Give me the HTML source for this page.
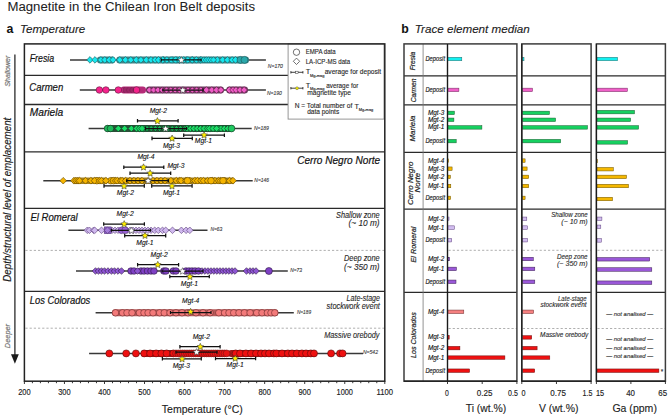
<!DOCTYPE html>
<html><head><meta charset="utf-8"><style>
html,body{margin:0;padding:0;background:#fff;}
svg{display:block;font-family:"Liberation Sans", sans-serif;}
</style></head><body>
<svg width="668" height="418" viewBox="0 0 668 418">
<rect width="668" height="418" fill="#fff"/>
<text x="7.5" y="10.7" font-size="12.5" text-anchor="start" stroke="#222" stroke-width="0.05" fill="#222" textLength="247.5" lengthAdjust="spacingAndGlyphs">Magnetite in the Chilean Iron Belt deposits</text>
<text x="6.5" y="33" font-size="12.3" text-anchor="start" font-weight="bold" fill="#111">a</text>
<text x="20" y="33" font-size="11.4" text-anchor="start" stroke="#222" stroke-width="0.12" font-style="italic" fill="#222" textLength="65.3" lengthAdjust="spacingAndGlyphs">Temperature</text>
<text x="401.2" y="33" font-size="12.3" text-anchor="start" font-weight="bold" fill="#111">b</text>
<text x="414.8" y="33" font-size="11.4" text-anchor="start" stroke="#222" stroke-width="0.12" font-style="italic" fill="#222" textLength="114.9" lengthAdjust="spacingAndGlyphs">Trace element median</text>
<path d="M14.9,54.4V356" stroke="#2a2a2a" stroke-width="1.3"/>
<path d="M11.0,354.3L18.8,354.3L14.9,363.8Z" fill="#1a1a1a"/>
<text transform="translate(11.4,281.7) rotate(-90)" font-size="10.4" font-style="italic" fill="#1a1a1a" stroke="#1a1a1a" stroke-width="0.15" textLength="164" lengthAdjust="spacingAndGlyphs">Depth/structural level of emplacement</text>
<text transform="translate(9.8,86.6) rotate(-90)" font-size="8" font-style="italic" fill="#777" stroke="#777" stroke-width="0.2" textLength="31" lengthAdjust="spacingAndGlyphs">Shallower</text>
<text transform="translate(9.8,348.2) rotate(-90)" font-size="8" font-style="italic" fill="#777" stroke="#777" stroke-width="0.2" textLength="24.3" lengthAdjust="spacingAndGlyphs">Deeper</text>
<path d="M24.4,75.4H288.1" stroke="#2a2a2a" stroke-width="1.3"/>
<path d="M24.4,104.5H288.1" stroke="#2a2a2a" stroke-width="1.3"/>
<path d="M24.4,151.9H384.8" stroke="#2a2a2a" stroke-width="1.3"/>
<path d="M24.4,208.4H384.8" stroke="#2a2a2a" stroke-width="1.3"/>
<path d="M24.4,291.4H384.8" stroke="#2a2a2a" stroke-width="1.3"/>
<path d="M25.4,250.4H384.8" stroke="#9a9a9a" stroke-width="0.8" stroke-dasharray="2.2,2.0"/>
<path d="M25.4,328.2H384.8" stroke="#9a9a9a" stroke-width="0.8" stroke-dasharray="2.2,2.0"/>
<path d="M24.40,381.2V384.0" stroke="#222" stroke-width="0.9"/>
<path d="M32.41,381.2V383.2" stroke="#222" stroke-width="0.9"/>
<path d="M40.42,381.2V383.2" stroke="#222" stroke-width="0.9"/>
<path d="M48.43,381.2V383.2" stroke="#222" stroke-width="0.9"/>
<path d="M56.44,381.2V383.2" stroke="#222" stroke-width="0.9"/>
<path d="M64.44,381.2V384.0" stroke="#222" stroke-width="0.9"/>
<path d="M72.45,381.2V383.2" stroke="#222" stroke-width="0.9"/>
<path d="M80.46,381.2V383.2" stroke="#222" stroke-width="0.9"/>
<path d="M88.47,381.2V383.2" stroke="#222" stroke-width="0.9"/>
<path d="M96.48,381.2V383.2" stroke="#222" stroke-width="0.9"/>
<path d="M104.49,381.2V384.0" stroke="#222" stroke-width="0.9"/>
<path d="M112.50,381.2V383.2" stroke="#222" stroke-width="0.9"/>
<path d="M120.51,381.2V383.2" stroke="#222" stroke-width="0.9"/>
<path d="M128.52,381.2V383.2" stroke="#222" stroke-width="0.9"/>
<path d="M136.52,381.2V383.2" stroke="#222" stroke-width="0.9"/>
<path d="M144.53,381.2V384.0" stroke="#222" stroke-width="0.9"/>
<path d="M152.54,381.2V383.2" stroke="#222" stroke-width="0.9"/>
<path d="M160.55,381.2V383.2" stroke="#222" stroke-width="0.9"/>
<path d="M168.56,381.2V383.2" stroke="#222" stroke-width="0.9"/>
<path d="M176.57,381.2V383.2" stroke="#222" stroke-width="0.9"/>
<path d="M184.58,381.2V384.0" stroke="#222" stroke-width="0.9"/>
<path d="M192.59,381.2V383.2" stroke="#222" stroke-width="0.9"/>
<path d="M200.60,381.2V383.2" stroke="#222" stroke-width="0.9"/>
<path d="M208.60,381.2V383.2" stroke="#222" stroke-width="0.9"/>
<path d="M216.61,381.2V383.2" stroke="#222" stroke-width="0.9"/>
<path d="M224.62,381.2V384.0" stroke="#222" stroke-width="0.9"/>
<path d="M232.63,381.2V383.2" stroke="#222" stroke-width="0.9"/>
<path d="M240.64,381.2V383.2" stroke="#222" stroke-width="0.9"/>
<path d="M248.65,381.2V383.2" stroke="#222" stroke-width="0.9"/>
<path d="M256.66,381.2V383.2" stroke="#222" stroke-width="0.9"/>
<path d="M264.67,381.2V384.0" stroke="#222" stroke-width="0.9"/>
<path d="M272.68,381.2V383.2" stroke="#222" stroke-width="0.9"/>
<path d="M280.68,381.2V383.2" stroke="#222" stroke-width="0.9"/>
<path d="M288.69,381.2V383.2" stroke="#222" stroke-width="0.9"/>
<path d="M296.70,381.2V383.2" stroke="#222" stroke-width="0.9"/>
<path d="M304.71,381.2V384.0" stroke="#222" stroke-width="0.9"/>
<path d="M312.72,381.2V383.2" stroke="#222" stroke-width="0.9"/>
<path d="M320.73,381.2V383.2" stroke="#222" stroke-width="0.9"/>
<path d="M328.74,381.2V383.2" stroke="#222" stroke-width="0.9"/>
<path d="M336.75,381.2V383.2" stroke="#222" stroke-width="0.9"/>
<path d="M344.76,381.2V384.0" stroke="#222" stroke-width="0.9"/>
<path d="M352.76,381.2V383.2" stroke="#222" stroke-width="0.9"/>
<path d="M360.77,381.2V383.2" stroke="#222" stroke-width="0.9"/>
<path d="M368.78,381.2V383.2" stroke="#222" stroke-width="0.9"/>
<path d="M376.79,381.2V383.2" stroke="#222" stroke-width="0.9"/>
<path d="M384.80,381.2V384.0" stroke="#222" stroke-width="0.9"/>
<text x="24.4" y="395.1" font-size="9.1" text-anchor="middle" stroke="#222" stroke-width="0.15" fill="#222" textLength="12.5" lengthAdjust="spacingAndGlyphs">200</text>
<text x="64.44" y="395.1" font-size="9.1" text-anchor="middle" stroke="#222" stroke-width="0.15" fill="#222" textLength="12.5" lengthAdjust="spacingAndGlyphs">300</text>
<text x="104.49" y="395.1" font-size="9.1" text-anchor="middle" stroke="#222" stroke-width="0.15" fill="#222" textLength="12.5" lengthAdjust="spacingAndGlyphs">400</text>
<text x="144.53" y="395.1" font-size="9.1" text-anchor="middle" stroke="#222" stroke-width="0.15" fill="#222" textLength="12.5" lengthAdjust="spacingAndGlyphs">500</text>
<text x="184.58" y="395.1" font-size="9.1" text-anchor="middle" stroke="#222" stroke-width="0.15" fill="#222" textLength="12.5" lengthAdjust="spacingAndGlyphs">600</text>
<text x="224.62" y="395.1" font-size="9.1" text-anchor="middle" stroke="#222" stroke-width="0.15" fill="#222" textLength="12.5" lengthAdjust="spacingAndGlyphs">700</text>
<text x="264.67" y="395.1" font-size="9.1" text-anchor="middle" stroke="#222" stroke-width="0.15" fill="#222" textLength="12.5" lengthAdjust="spacingAndGlyphs">800</text>
<text x="304.71" y="395.1" font-size="9.1" text-anchor="middle" stroke="#222" stroke-width="0.15" fill="#222" textLength="12.5" lengthAdjust="spacingAndGlyphs">900</text>
<text x="344.76" y="395.1" font-size="9.1" text-anchor="middle" stroke="#222" stroke-width="0.15" fill="#222" textLength="16.5" lengthAdjust="spacingAndGlyphs">1000</text>
<text x="384.8" y="395.1" font-size="9.1" text-anchor="middle" stroke="#222" stroke-width="0.15" fill="#222" textLength="16.5" lengthAdjust="spacingAndGlyphs">1100</text>
<text x="161.8" y="413.1" font-size="11.2" text-anchor="start" stroke="#222" stroke-width="0.12" fill="#222" textLength="81" lengthAdjust="spacingAndGlyphs">Temperature (°C)</text>
<text x="29.7" y="62.4" font-size="10.5" text-anchor="start" stroke="#141414" stroke-width="0.2" font-style="italic" fill="#141414" textLength="24.5" lengthAdjust="spacingAndGlyphs">Fresia</text>
<text x="29.3" y="90.8" font-size="10.5" text-anchor="start" stroke="#141414" stroke-width="0.2" font-style="italic" fill="#141414" textLength="33.9" lengthAdjust="spacingAndGlyphs">Carmen</text>
<text x="29.8" y="116.4" font-size="10.5" text-anchor="start" stroke="#141414" stroke-width="0.2" font-style="italic" fill="#141414" textLength="33.4" lengthAdjust="spacingAndGlyphs">Mariela</text>
<text x="297.2" y="163.5" font-size="10.5" text-anchor="start" stroke="#141414" stroke-width="0.2" font-style="italic" fill="#141414" textLength="83" lengthAdjust="spacingAndGlyphs">Cerro Negro Norte</text>
<text x="30.4" y="220.6" font-size="10.5" text-anchor="start" stroke="#141414" stroke-width="0.2" font-style="italic" fill="#141414" textLength="47.3" lengthAdjust="spacingAndGlyphs">El Romeral</text>
<text x="29.8" y="304.0" font-size="10.5" text-anchor="start" stroke="#141414" stroke-width="0.2" font-style="italic" fill="#141414" textLength="60.5" lengthAdjust="spacingAndGlyphs">Los Colorados</text>
<text x="336.0" y="217.9" font-size="8.2" text-anchor="start" stroke="#2a2a2a" stroke-width="0.12" font-style="italic" fill="#2a2a2a" textLength="43.6" lengthAdjust="spacingAndGlyphs">Shallow zone</text>
<text x="348.5" y="226.4" font-size="8.2" text-anchor="start" stroke="#2a2a2a" stroke-width="0.12" font-style="italic" fill="#2a2a2a" textLength="31.1" lengthAdjust="spacingAndGlyphs">(~ 10 m)</text>
<text x="344.0" y="260.8" font-size="8.2" text-anchor="start" stroke="#2a2a2a" stroke-width="0.12" font-style="italic" fill="#2a2a2a" textLength="35.6" lengthAdjust="spacingAndGlyphs">Deep zone</text>
<text x="344.0" y="269.6" font-size="8.2" text-anchor="start" stroke="#2a2a2a" stroke-width="0.12" font-style="italic" fill="#2a2a2a" textLength="35.6" lengthAdjust="spacingAndGlyphs">(~ 350 m)</text>
<text x="346.6" y="301.3" font-size="8.2" text-anchor="start" stroke="#2a2a2a" stroke-width="0.12" font-style="italic" fill="#2a2a2a" textLength="33.3" lengthAdjust="spacingAndGlyphs">Late-stage</text>
<text x="326.6" y="308.8" font-size="8.2" text-anchor="start" stroke="#2a2a2a" stroke-width="0.12" font-style="italic" fill="#2a2a2a" textLength="53.3" lengthAdjust="spacingAndGlyphs">stockwork event</text>
<text x="324.2" y="338.4" font-size="8.2" text-anchor="start" stroke="#2a2a2a" stroke-width="0.12" font-style="italic" fill="#2a2a2a" textLength="55.3" lengthAdjust="spacingAndGlyphs">Massive orebody</text>
<path d="M70.0,59.9H265.9" stroke="#383838" stroke-width="1.5"/>
<rect x="97.0" y="56.40" width="18.30" height="7.0" rx="3.2" fill="#3d8488"/>
<rect x="116.3" y="56.40" width="132.70" height="7.0" rx="3.2" fill="#3d8488"/>
<path d="M86.70,59.9L90.0,56.60L93.30,59.9L90.0,63.20Z" fill="#17e6ee" stroke="#1d5558" stroke-width="0.6"/>
<path d="M91.70,59.9L95.0,56.60L98.30,59.9L95.0,63.20Z" fill="#17e6ee" stroke="#1d5558" stroke-width="0.6"/>
<path d="M97.60,59.9L100.9,56.60L104.20,59.9L100.9,63.20Z" fill="#17e6ee" stroke="#1d5558" stroke-width="0.6"/>
<path d="M101.50,59.9L104.8,56.60L108.10,59.9L104.8,63.20Z" fill="#17e6ee" stroke="#1d5558" stroke-width="0.6"/>
<path d="M106.00,59.9L109.3,56.60L112.60,59.9L109.3,63.20Z" fill="#17e6ee" stroke="#1d5558" stroke-width="0.6"/>
<path d="M109.70,59.9L113,56.60L116.30,59.9L113,63.20Z" fill="#17e6ee" stroke="#1d5558" stroke-width="0.6"/>
<path d="M116.50,59.9L119.8,56.60L123.10,59.9L119.8,63.20Z" fill="#17e6ee" stroke="#1d5558" stroke-width="0.6"/>
<path d="M122.10,59.9L125.4,56.60L128.70,59.9L125.4,63.20Z" fill="#17e6ee" stroke="#1d5558" stroke-width="0.6"/>
<path d="M127.50,59.9L130.8,56.60L134.10,59.9L130.8,63.20Z" fill="#17e6ee" stroke="#1d5558" stroke-width="0.6"/>
<path d="M132.90,59.9L136.2,56.60L139.50,59.9L136.2,63.20Z" fill="#17e6ee" stroke="#1d5558" stroke-width="0.6"/>
<path d="M137.60,59.9L140.9,56.60L144.20,59.9L140.9,63.20Z" fill="#17e6ee" stroke="#1d5558" stroke-width="0.6"/>
<path d="M143.00,59.9L146.3,56.60L149.60,59.9L146.3,63.20Z" fill="#17e6ee" stroke="#1d5558" stroke-width="0.6"/>
<path d="M147.70,59.9L151.0,56.60L154.30,59.9L151.0,63.20Z" fill="#17e6ee" stroke="#1d5558" stroke-width="0.6"/>
<path d="M151.80,59.9L155.1,56.60L158.40,59.9L155.1,63.20Z" fill="#17e6ee" stroke="#1d5558" stroke-width="0.6"/>
<path d="M160.10,59.9L163.4,56.60L166.70,59.9L163.4,63.20Z" fill="#17e6ee" stroke="#1d5558" stroke-width="0.6"/>
<path d="M169.50,59.9L172.8,56.60L176.10,59.9L172.8,63.20Z" fill="#17e6ee" stroke="#1d5558" stroke-width="0.6"/>
<path d="M173.50,59.9L176.8,56.60L180.10,59.9L176.8,63.20Z" fill="#17e6ee" stroke="#1d5558" stroke-width="0.6"/>
<path d="M183.70,59.9L187.0,56.60L190.30,59.9L187.0,63.20Z" fill="#17e6ee" stroke="#1d5558" stroke-width="0.6"/>
<path d="M189.00,59.9L192.3,56.60L195.60,59.9L192.3,63.20Z" fill="#17e6ee" stroke="#1d5558" stroke-width="0.6"/>
<path d="M214.00,59.9L217.3,56.60L220.60,59.9L217.3,63.20Z" fill="#17e6ee" stroke="#1d5558" stroke-width="0.6"/>
<path d="M219.40,59.9L222.7,56.60L226.00,59.9L222.7,63.20Z" fill="#17e6ee" stroke="#1d5558" stroke-width="0.6"/>
<path d="M224.10,59.9L227.4,56.60L230.70,59.9L227.4,63.20Z" fill="#17e6ee" stroke="#1d5558" stroke-width="0.6"/>
<path d="M228.80,59.9L232.1,56.60L235.40,59.9L232.1,63.20Z" fill="#17e6ee" stroke="#1d5558" stroke-width="0.6"/>
<path d="M232.20,59.9L235.5,56.60L238.80,59.9L235.5,63.20Z" fill="#17e6ee" stroke="#1d5558" stroke-width="0.6"/>
<path d="M155.20,59.9L158.5,56.60L161.80,59.9L158.5,63.20Z" fill="#17e6ee" stroke="#1d5558" stroke-width="0.6"/>
<path d="M159.40,59.9L162.7,56.60L166.00,59.9L162.7,63.20Z" fill="#17e6ee" stroke="#1d5558" stroke-width="0.6"/>
<path d="M163.60,59.9L166.89999999999998,56.60L170.20,59.9L166.89999999999998,63.20Z" fill="#17e6ee" stroke="#1d5558" stroke-width="0.6"/>
<path d="M167.80,59.9L171.09999999999997,56.60L174.40,59.9L171.09999999999997,63.20Z" fill="#17e6ee" stroke="#1d5558" stroke-width="0.6"/>
<path d="M172.00,59.9L175.29999999999995,56.60L178.60,59.9L175.29999999999995,63.20Z" fill="#17e6ee" stroke="#1d5558" stroke-width="0.6"/>
<path d="M176.20,59.9L179.49999999999994,56.60L182.80,59.9L179.49999999999994,63.20Z" fill="#17e6ee" stroke="#1d5558" stroke-width="0.6"/>
<path d="M180.40,59.9L183.69999999999993,56.60L187.00,59.9L183.69999999999993,63.20Z" fill="#17e6ee" stroke="#1d5558" stroke-width="0.6"/>
<path d="M184.60,59.9L187.89999999999992,56.60L191.20,59.9L187.89999999999992,63.20Z" fill="#17e6ee" stroke="#1d5558" stroke-width="0.6"/>
<path d="M188.80,59.9L192.0999999999999,56.60L195.40,59.9L192.0999999999999,63.20Z" fill="#17e6ee" stroke="#1d5558" stroke-width="0.6"/>
<path d="M193.00,59.9L196.2999999999999,56.60L199.60,59.9L196.2999999999999,63.20Z" fill="#17e6ee" stroke="#1d5558" stroke-width="0.6"/>
<path d="M197.20,59.9L200.4999999999999,56.60L203.80,59.9L200.4999999999999,63.20Z" fill="#17e6ee" stroke="#1d5558" stroke-width="0.6"/>
<path d="M198.40,59.9L201.5,56.80L204.60,59.9L201.5,63.00Z" fill="#17e6ee" stroke="#1d5558" stroke-width="0.6"/>
<path d="M200.80,59.9L203.9,56.80L207.00,59.9L203.9,63.00Z" fill="#17e6ee" stroke="#1d5558" stroke-width="0.6"/>
<path d="M203.20,59.9L206.3,56.80L209.40,59.9L206.3,63.00Z" fill="#17e6ee" stroke="#1d5558" stroke-width="0.6"/>
<path d="M205.60,59.9L208.70000000000002,56.80L211.80,59.9L208.70000000000002,63.00Z" fill="#17e6ee" stroke="#1d5558" stroke-width="0.6"/>
<path d="M208.00,59.9L211.10000000000002,56.80L214.20,59.9L211.10000000000002,63.00Z" fill="#17e6ee" stroke="#1d5558" stroke-width="0.6"/>
<path d="M210.40,59.9L213.50000000000003,56.80L216.60,59.9L213.50000000000003,63.00Z" fill="#17e6ee" stroke="#1d5558" stroke-width="0.6"/>
<circle cx="240.50" cy="59.9" r="3.5" fill="#2aa7aa" stroke="#1d5558" stroke-width="0.6"/>
<circle cx="244.50" cy="59.9" r="3.5" fill="#2aa7aa" stroke="#1d5558" stroke-width="0.6"/>
<path d="M161.3,59.9H201.1M161.3,58.4V61.4M201.1,58.4V61.4" stroke="#111" stroke-width="1.25" fill="none"/>
<path d="M181.30,56.60 L182.32,58.80 L184.72,59.09 L182.94,60.73 L183.42,63.11 L181.30,61.93 L179.18,63.11 L179.66,60.73 L177.88,59.09 L180.28,58.80 Z" fill="#ffffff" stroke="#333" stroke-width="0.55"/>
<text x="267.8" y="68.0" font-size="5.9" text-anchor="start" stroke="#3a3a3a" stroke-width="0.12" font-style="italic" fill="#3a3a3a" textLength="15.1" lengthAdjust="spacingAndGlyphs">N=170</text>
<path d="M79.8,90.0H265.9" stroke="#383838" stroke-width="1.5"/>
<rect x="120.5" y="86.50" width="25.50" height="7.0" rx="3.2" fill="#b52a78"/>
<rect x="146" y="86.50" width="78.00" height="7.0" rx="3.2" fill="#6e3a62"/>
<rect x="226.3" y="86.50" width="21.70" height="7.0" rx="3.2" fill="#6e3a62"/>
<circle cx="99.40" cy="90.0" r="3.3" fill="#f5228c" stroke="#5a1c3c" stroke-width="0.6"/>
<circle cx="105.90" cy="90.0" r="3.3" fill="#f5228c" stroke="#5a1c3c" stroke-width="0.6"/>
<circle cx="118.30" cy="90.0" r="3.3" fill="#f5228c" stroke="#5a1c3c" stroke-width="0.6"/>
<circle cx="136.50" cy="90.0" r="3.3" fill="#f5228c" stroke="#5a1c3c" stroke-width="0.6"/>
<path d="M146.20,90.0L149.3,86.90L152.40,90.0L149.3,93.10Z" fill="#ee5cc6" stroke="#5a1c3c" stroke-width="0.6"/>
<path d="M150.50,90.0L153.60000000000002,86.90L156.70,90.0L153.60000000000002,93.10Z" fill="#ee5cc6" stroke="#5a1c3c" stroke-width="0.6"/>
<path d="M154.80,90.0L157.90000000000003,86.90L161.00,90.0L157.90000000000003,93.10Z" fill="#ee5cc6" stroke="#5a1c3c" stroke-width="0.6"/>
<path d="M159.10,90.0L162.20000000000005,86.90L165.30,90.0L162.20000000000005,93.10Z" fill="#ee5cc6" stroke="#5a1c3c" stroke-width="0.6"/>
<path d="M163.40,90.0L166.50000000000006,86.90L169.60,90.0L166.50000000000006,93.10Z" fill="#ee5cc6" stroke="#5a1c3c" stroke-width="0.6"/>
<path d="M167.70,90.0L170.80000000000007,86.90L173.90,90.0L170.80000000000007,93.10Z" fill="#ee5cc6" stroke="#5a1c3c" stroke-width="0.6"/>
<path d="M172.00,90.0L175.10000000000008,86.90L178.20,90.0L175.10000000000008,93.10Z" fill="#ee5cc6" stroke="#5a1c3c" stroke-width="0.6"/>
<path d="M176.30,90.0L179.4000000000001,86.90L182.50,90.0L179.4000000000001,93.10Z" fill="#ee5cc6" stroke="#5a1c3c" stroke-width="0.6"/>
<path d="M180.60,90.0L183.7000000000001,86.90L186.80,90.0L183.7000000000001,93.10Z" fill="#ee5cc6" stroke="#5a1c3c" stroke-width="0.6"/>
<path d="M184.90,90.0L188.0000000000001,86.90L191.10,90.0L188.0000000000001,93.10Z" fill="#ee5cc6" stroke="#5a1c3c" stroke-width="0.6"/>
<path d="M189.20,90.0L192.30000000000013,86.90L195.40,90.0L192.30000000000013,93.10Z" fill="#ee5cc6" stroke="#5a1c3c" stroke-width="0.6"/>
<path d="M193.50,90.0L196.60000000000014,86.90L199.70,90.0L196.60000000000014,93.10Z" fill="#ee5cc6" stroke="#5a1c3c" stroke-width="0.6"/>
<path d="M197.80,90.0L200.90000000000015,86.90L204.00,90.0L200.90000000000015,93.10Z" fill="#ee5cc6" stroke="#5a1c3c" stroke-width="0.6"/>
<path d="M203.10,90.0L206.4,86.70L209.70,90.0L206.4,93.30Z" fill="#ee5cc6" stroke="#5a1c3c" stroke-width="0.6"/>
<path d="M208.50,90.0L211.8,86.70L215.10,90.0L211.8,93.30Z" fill="#ee5cc6" stroke="#5a1c3c" stroke-width="0.6"/>
<path d="M213.20,90.0L216.5,86.70L219.80,90.0L216.5,93.30Z" fill="#ee5cc6" stroke="#5a1c3c" stroke-width="0.6"/>
<path d="M217.60,90.0L220.9,86.70L224.20,90.0L220.9,93.30Z" fill="#ee5cc6" stroke="#5a1c3c" stroke-width="0.6"/>
<path d="M226.00,90.0L229.3,86.70L232.60,90.0L229.3,93.30Z" fill="#ee5cc6" stroke="#5a1c3c" stroke-width="0.6"/>
<path d="M229.70,90.0L233,86.70L236.30,90.0L233,93.30Z" fill="#ee5cc6" stroke="#5a1c3c" stroke-width="0.6"/>
<path d="M232.70,90.0L236.0,86.70L239.30,90.0L236.0,93.30Z" fill="#ee5cc6" stroke="#5a1c3c" stroke-width="0.6"/>
<path d="M236.70,90.0L240.0,86.70L243.30,90.0L240.0,93.30Z" fill="#ee5cc6" stroke="#5a1c3c" stroke-width="0.6"/>
<path d="M240.80,90.0L244.1,86.70L247.40,90.0L244.1,93.30Z" fill="#ee5cc6" stroke="#5a1c3c" stroke-width="0.6"/>
<path d="M123.00,87.0L123.90,90.0L123.00,93.0" stroke="#5a1c3c" stroke-width="0.5" fill="none"/>
<path d="M124.40,87.0L125.30,90.0L124.40,93.0" stroke="#5a1c3c" stroke-width="0.5" fill="none"/>
<path d="M125.80,87.0L126.70,90.0L125.80,93.0" stroke="#5a1c3c" stroke-width="0.5" fill="none"/>
<path d="M127.20,87.0L128.10,90.0L127.20,93.0" stroke="#5a1c3c" stroke-width="0.5" fill="none"/>
<path d="M128.60,87.0L129.50,90.0L128.60,93.0" stroke="#5a1c3c" stroke-width="0.5" fill="none"/>
<path d="M130.00,87.0L130.90,90.0L130.00,93.0" stroke="#5a1c3c" stroke-width="0.5" fill="none"/>
<path d="M131.40,87.0L132.30,90.0L131.40,93.0" stroke="#5a1c3c" stroke-width="0.5" fill="none"/>
<path d="M132.80,87.0L133.70,90.0L132.80,93.0" stroke="#5a1c3c" stroke-width="0.5" fill="none"/>
<path d="M162.8,90.0H203.0M162.8,88.5V91.5M203.0,88.5V91.5" stroke="#111" stroke-width="1.25" fill="none"/>
<path d="M182.80,86.70 L183.82,88.90 L186.22,89.19 L184.44,90.83 L184.92,93.21 L182.80,92.03 L180.68,93.21 L181.16,90.83 L179.38,89.19 L181.78,88.90 Z" fill="#ffffff" stroke="#333" stroke-width="0.55"/>
<text x="266.9" y="94.5" font-size="5.9" text-anchor="start" stroke="#3a3a3a" stroke-width="0.12" font-style="italic" fill="#3a3a3a" textLength="14.9" lengthAdjust="spacingAndGlyphs">N=190</text>
<path d="M88.6,128.5H251.7" stroke="#383838" stroke-width="1.5"/>
<rect x="105.0" y="125.00" width="128.80" height="7.0" rx="3.2" fill="#2a5038"/>
<circle cx="107.50" cy="128.5" r="3.3" fill="#1fb85a" stroke="#122e1e" stroke-width="0.6"/>
<circle cx="110.50" cy="128.5" r="3.3" fill="#1fb85a" stroke="#122e1e" stroke-width="0.6"/>
<path d="M115.00,128.5L118.3,125.20L121.60,128.5L118.3,131.80Z" fill="#1bde66" stroke="#122e1e" stroke-width="0.6"/>
<path d="M121.30,128.5L124.6,125.20L127.90,128.5L124.6,131.80Z" fill="#1bde66" stroke="#122e1e" stroke-width="0.6"/>
<path d="M128.10,128.5L131.4,125.20L134.70,128.5L131.4,131.80Z" fill="#1bde66" stroke="#122e1e" stroke-width="0.6"/>
<path d="M140.20,128.5L143.5,125.20L146.80,128.5L143.5,131.80Z" fill="#1bde66" stroke="#122e1e" stroke-width="0.6"/>
<path d="M193.20,128.5L196.5,125.20L199.80,128.5L196.5,131.80Z" fill="#1bde66" stroke="#122e1e" stroke-width="0.6"/>
<path d="M197.10,128.5L200.4,125.20L203.70,128.5L200.4,131.80Z" fill="#1bde66" stroke="#122e1e" stroke-width="0.6"/>
<path d="M202.10,128.5L205.4,125.20L208.70,128.5L205.4,131.80Z" fill="#1bde66" stroke="#122e1e" stroke-width="0.6"/>
<path d="M215.60,128.5L218.9,125.20L222.20,128.5L218.9,131.80Z" fill="#1bde66" stroke="#122e1e" stroke-width="0.6"/>
<path d="M220.10,128.5L223.4,125.20L226.70,128.5L223.4,131.80Z" fill="#1bde66" stroke="#122e1e" stroke-width="0.6"/>
<path d="M226.90,128.5L230.2,125.20L233.50,128.5L230.2,131.80Z" fill="#1bde66" stroke="#122e1e" stroke-width="0.6"/>
<path d="M136.00,125.5L136.90,128.5L136.00,131.5" stroke="#1bde66" stroke-width="0.5" fill="none"/>
<path d="M137.40,125.5L138.30,128.5L137.40,131.5" stroke="#1bde66" stroke-width="0.5" fill="none"/>
<path d="M138.80,125.5L139.70,128.5L138.80,131.5" stroke="#1bde66" stroke-width="0.5" fill="none"/>
<path d="M140.20,125.5L141.10,128.5L140.20,131.5" stroke="#1bde66" stroke-width="0.5" fill="none"/>
<path d="M141.60,125.5L142.50,128.5L141.60,131.5" stroke="#1bde66" stroke-width="0.5" fill="none"/>
<path d="M186.50,125.5L187.40,128.5L186.50,131.5" stroke="#1bde66" stroke-width="0.5" fill="none"/>
<path d="M187.90,125.5L188.80,128.5L187.90,131.5" stroke="#1bde66" stroke-width="0.5" fill="none"/>
<path d="M189.30,125.5L190.20,128.5L189.30,131.5" stroke="#1bde66" stroke-width="0.5" fill="none"/>
<path d="M190.70,125.5L191.60,128.5L190.70,131.5" stroke="#1bde66" stroke-width="0.5" fill="none"/>
<path d="M192.10,125.5L193.00,128.5L192.10,131.5" stroke="#1bde66" stroke-width="0.5" fill="none"/>
<path d="M211.00,125.5L211.90,128.5L211.00,131.5" stroke="#1bde66" stroke-width="0.5" fill="none"/>
<path d="M212.40,125.5L213.30,128.5L212.40,131.5" stroke="#1bde66" stroke-width="0.5" fill="none"/>
<path d="M213.80,125.5L214.70,128.5L213.80,131.5" stroke="#1bde66" stroke-width="0.5" fill="none"/>
<path d="M215.20,125.5L216.10,128.5L215.20,131.5" stroke="#1bde66" stroke-width="0.5" fill="none"/>
<path d="M216.60,125.5L217.50,128.5L216.60,131.5" stroke="#1bde66" stroke-width="0.5" fill="none"/>
<path d="M144.00,128.5L147,125.50L150.00,128.5L147,131.50Z" fill="#19b856" stroke="#122e1e" stroke-width="0.6"/>
<path d="M148.20,128.5L151.2,125.50L154.20,128.5L151.2,131.50Z" fill="#19b856" stroke="#122e1e" stroke-width="0.6"/>
<path d="M152.40,128.5L155.39999999999998,125.50L158.40,128.5L155.39999999999998,131.50Z" fill="#19b856" stroke="#122e1e" stroke-width="0.6"/>
<path d="M156.60,128.5L159.59999999999997,125.50L162.60,128.5L159.59999999999997,131.50Z" fill="#19b856" stroke="#122e1e" stroke-width="0.6"/>
<path d="M160.80,128.5L163.79999999999995,125.50L166.80,128.5L163.79999999999995,131.50Z" fill="#19b856" stroke="#122e1e" stroke-width="0.6"/>
<path d="M165.00,128.5L167.99999999999994,125.50L171.00,128.5L167.99999999999994,131.50Z" fill="#19b856" stroke="#122e1e" stroke-width="0.6"/>
<path d="M169.20,128.5L172.19999999999993,125.50L175.20,128.5L172.19999999999993,131.50Z" fill="#19b856" stroke="#122e1e" stroke-width="0.6"/>
<path d="M173.40,128.5L176.39999999999992,125.50L179.40,128.5L176.39999999999992,131.50Z" fill="#19b856" stroke="#122e1e" stroke-width="0.6"/>
<path d="M177.60,128.5L180.5999999999999,125.50L183.60,128.5L180.5999999999999,131.50Z" fill="#19b856" stroke="#122e1e" stroke-width="0.6"/>
<path d="M181.80,128.5L184.7999999999999,125.50L187.80,128.5L184.7999999999999,131.50Z" fill="#19b856" stroke="#122e1e" stroke-width="0.6"/>
<path d="M133.20,128.5L136.5,125.20L139.80,128.5L136.5,131.80Z" fill="#1bde66" stroke="#122e1e" stroke-width="0.6"/>
<path d="M136.20,128.5L139.5,125.20L142.80,128.5L139.5,131.80Z" fill="#1bde66" stroke="#122e1e" stroke-width="0.6"/>
<path d="M138.70,128.5L142,125.20L145.30,128.5L142,131.80Z" fill="#1bde66" stroke="#122e1e" stroke-width="0.6"/>
<path d="M183.80,128.5L187,125.30L190.20,128.5L187,131.70Z" fill="#1bde66" stroke="#122e1e" stroke-width="0.6"/>
<path d="M187.20,128.5L190.4,125.30L193.60,128.5L190.4,131.70Z" fill="#1bde66" stroke="#122e1e" stroke-width="0.6"/>
<path d="M190.60,128.5L193.8,125.30L197.00,128.5L193.8,131.70Z" fill="#1bde66" stroke="#122e1e" stroke-width="0.6"/>
<path d="M194.00,128.5L197.20000000000002,125.30L200.40,128.5L197.20000000000002,131.70Z" fill="#1bde66" stroke="#122e1e" stroke-width="0.6"/>
<path d="M197.40,128.5L200.60000000000002,125.30L203.80,128.5L200.60000000000002,131.70Z" fill="#1bde66" stroke="#122e1e" stroke-width="0.6"/>
<path d="M200.80,128.5L204.00000000000003,125.30L207.20,128.5L204.00000000000003,131.70Z" fill="#1bde66" stroke="#122e1e" stroke-width="0.6"/>
<path d="M204.20,128.5L207.40000000000003,125.30L210.60,128.5L207.40000000000003,131.70Z" fill="#1bde66" stroke="#122e1e" stroke-width="0.6"/>
<path d="M207.60,128.5L210.80000000000004,125.30L214.00,128.5L210.80000000000004,131.70Z" fill="#1bde66" stroke="#122e1e" stroke-width="0.6"/>
<path d="M211.00,128.5L214.20000000000005,125.30L217.40,128.5L214.20000000000005,131.70Z" fill="#1bde66" stroke="#122e1e" stroke-width="0.6"/>
<path d="M214.40,128.5L217.60000000000005,125.30L220.80,128.5L217.60000000000005,131.70Z" fill="#1bde66" stroke="#122e1e" stroke-width="0.6"/>
<path d="M217.80,128.5L221.00000000000006,125.30L224.20,128.5L221.00000000000006,131.70Z" fill="#1bde66" stroke="#122e1e" stroke-width="0.6"/>
<path d="M221.20,128.5L224.40000000000006,125.30L227.60,128.5L224.40000000000006,131.70Z" fill="#1bde66" stroke="#122e1e" stroke-width="0.6"/>
<path d="M224.60,128.5L227.80000000000007,125.30L231.00,128.5L227.80000000000007,131.70Z" fill="#1bde66" stroke="#122e1e" stroke-width="0.6"/>
<circle cx="231.50" cy="128.5" r="3.4" fill="#1fc860" stroke="#122e1e" stroke-width="0.6"/>
<path d="M206.30,128.5L209.5,125.30L212.70,128.5L209.5,131.70Z" fill="#1bde66" stroke="#122e1e" stroke-width="0.6"/>
<path d="M209.80,128.5L213.0,125.30L216.20,128.5L213.0,131.70Z" fill="#1bde66" stroke="#122e1e" stroke-width="0.6"/>
<path d="M213.30,128.5L216.5,125.30L219.70,128.5L216.5,131.70Z" fill="#1bde66" stroke="#122e1e" stroke-width="0.6"/>
<path d="M145.5,128.5H186.5M145.5,127.0V130.0M186.5,127.0V130.0" stroke="#111" stroke-width="1.25" fill="none"/>
<path d="M165.60,125.20 L166.62,127.40 L169.02,127.69 L167.24,129.33 L167.72,131.71 L165.60,130.53 L163.48,131.71 L163.96,129.33 L162.18,127.69 L164.58,127.40 Z" fill="#ffffff" stroke="#333" stroke-width="0.55"/>
<path d="M137.5,120.8H178.1M137.5,119.0V122.6M178.1,119.0V122.6" stroke="#111" stroke-width="1.25" fill="none"/>
<path d="M157.40,117.60 L158.39,119.74 L160.73,120.02 L159.00,121.62 L159.46,123.93 L157.40,122.78 L155.34,123.93 L155.80,121.62 L154.07,120.02 L156.41,119.74 Z" fill="#ffee00" stroke="#333" stroke-width="0.55"/>
<path d="M152.0,138.4H192.3M152.0,136.6V140.20000000000002M192.3,136.6V140.20000000000002" stroke="#111" stroke-width="1.25" fill="none"/>
<path d="M172.10,135.00 L173.09,137.14 L175.43,137.42 L173.70,139.02 L174.16,141.33 L172.10,140.18 L170.04,141.33 L170.50,139.02 L168.77,137.42 L171.11,137.14 Z" fill="#ffee00" stroke="#333" stroke-width="0.55"/>
<path d="M183.7,135.2H224.4M183.7,133.39999999999998V137.0M224.4,133.39999999999998V137.0" stroke="#111" stroke-width="1.25" fill="none"/>
<path d="M204.10,131.70 L205.09,133.84 L207.43,134.12 L205.70,135.72 L206.16,138.03 L204.10,136.88 L202.04,138.03 L202.50,135.72 L200.77,134.12 L203.11,133.84 Z" fill="#ffee00" stroke="#333" stroke-width="0.55"/>
<text x="158.3" y="113.0" font-size="7.2" text-anchor="middle" stroke="#111" stroke-width="0.12" font-style="italic" fill="#111" textLength="17.2" lengthAdjust="spacingAndGlyphs">Mgt-2</text>
<text x="171.5" y="148.1" font-size="7.2" text-anchor="middle" stroke="#111" stroke-width="0.12" font-style="italic" fill="#111" textLength="17.2" lengthAdjust="spacingAndGlyphs">Mgt-3</text>
<text x="203.4" y="142.9" font-size="7.2" text-anchor="middle" stroke="#111" stroke-width="0.12" font-style="italic" fill="#111" textLength="17.2" lengthAdjust="spacingAndGlyphs">Mgt-1</text>
<text x="253.9" y="129.9" font-size="5.9" text-anchor="start" stroke="#3a3a3a" stroke-width="0.12" font-style="italic" fill="#3a3a3a" textLength="15.0" lengthAdjust="spacingAndGlyphs">N=189</text>
<path d="M43.3,180.7H252.7" stroke="#383838" stroke-width="1.5"/>
<path d="M59.90,180.7L63.2,177.40L66.50,180.7L63.2,184.00Z" fill="#f5b400" stroke="#5a4200" stroke-width="0.6"/>
<rect x="72.0" y="177.50" width="36.30" height="6.4" rx="3.2" fill="#a88420"/>
<rect x="109.5" y="177.50" width="125.50" height="6.4" rx="3.2" fill="#a88420"/>
<rect x="127" y="177.90" width="41.00" height="5.6" rx="3.2" fill="#9a7a20"/>
<path d="M70.60,180.7L74,177.30L77.40,180.7L74,184.10Z" fill="#f5b400" stroke="#5a4200" stroke-width="0.6"/>
<path d="M72.60,180.7L76,177.30L79.40,180.7L76,184.10Z" fill="#f5b400" stroke="#5a4200" stroke-width="0.6"/>
<path d="M74.60,180.7L78,177.30L81.40,180.7L78,184.10Z" fill="#f5b400" stroke="#5a4200" stroke-width="0.6"/>
<circle cx="96.90" cy="180.7" r="3.3" fill="#f5b400" stroke="#5a4200" stroke-width="0.6"/>
<circle cx="110.80" cy="180.7" r="3.3" fill="#f5b400" stroke="#5a4200" stroke-width="0.6"/>
<circle cx="113.50" cy="180.7" r="3.3" fill="#f5b400" stroke="#5a4200" stroke-width="0.6"/>
<path d="M76.20,180.7L79.6,177.30L83.00,180.7L79.6,184.10Z" fill="#f5b400" stroke="#5a4200" stroke-width="0.6"/>
<path d="M82.10,180.7L85.5,177.30L88.90,180.7L85.5,184.10Z" fill="#f5b400" stroke="#5a4200" stroke-width="0.6"/>
<path d="M87.50,180.7L90.9,177.30L94.30,180.7L90.9,184.10Z" fill="#f5b400" stroke="#5a4200" stroke-width="0.6"/>
<path d="M91.10,180.7L94.5,177.30L97.90,180.7L94.5,184.10Z" fill="#f5b400" stroke="#5a4200" stroke-width="0.6"/>
<path d="M96.10,180.7L99.5,177.30L102.90,180.7L99.5,184.10Z" fill="#f5b400" stroke="#5a4200" stroke-width="0.6"/>
<path d="M98.10,180.7L101.5,177.30L104.90,180.7L101.5,184.10Z" fill="#f5b400" stroke="#5a4200" stroke-width="0.6"/>
<path d="M102.50,180.7L105.9,177.30L109.30,180.7L105.9,184.10Z" fill="#f5b400" stroke="#5a4200" stroke-width="0.6"/>
<path d="M112.10,180.7L115.5,177.30L118.90,180.7L115.5,184.10Z" fill="#f5b400" stroke="#5a4200" stroke-width="0.6"/>
<path d="M113.90,180.7L117.3,177.30L120.70,180.7L117.3,184.10Z" fill="#f5b400" stroke="#5a4200" stroke-width="0.6"/>
<path d="M117.10,180.7L120.5,177.30L123.90,180.7L120.5,184.10Z" fill="#f5b400" stroke="#5a4200" stroke-width="0.6"/>
<path d="M118.70,180.7L122.1,177.30L125.50,180.7L122.1,184.10Z" fill="#f5b400" stroke="#5a4200" stroke-width="0.6"/>
<path d="M122.30,180.7L125.7,177.30L129.10,180.7L125.7,184.10Z" fill="#f5b400" stroke="#5a4200" stroke-width="0.6"/>
<path d="M126.60,180.7L130,177.30L133.40,180.7L130,184.10Z" fill="#f5b400" stroke="#5a4200" stroke-width="0.6"/>
<path d="M130.60,180.7L134,177.30L137.40,180.7L134,184.10Z" fill="#f5b400" stroke="#5a4200" stroke-width="0.6"/>
<path d="M134.60,180.7L138,177.30L141.40,180.7L138,184.10Z" fill="#f5b400" stroke="#5a4200" stroke-width="0.6"/>
<path d="M138.60,180.7L142,177.30L145.40,180.7L142,184.10Z" fill="#f5b400" stroke="#5a4200" stroke-width="0.6"/>
<path d="M149.60,180.7L153,177.30L156.40,180.7L153,184.10Z" fill="#f5b400" stroke="#5a4200" stroke-width="0.6"/>
<path d="M153.60,180.7L157,177.30L160.40,180.7L157,184.10Z" fill="#f5b400" stroke="#5a4200" stroke-width="0.6"/>
<path d="M157.60,180.7L161,177.30L164.40,180.7L161,184.10Z" fill="#f5b400" stroke="#5a4200" stroke-width="0.6"/>
<path d="M161.60,180.7L165,177.30L168.40,180.7L165,184.10Z" fill="#f5b400" stroke="#5a4200" stroke-width="0.6"/>
<path d="M167.50,180.7L170.9,177.30L174.30,180.7L170.9,184.10Z" fill="#f5b400" stroke="#5a4200" stroke-width="0.6"/>
<path d="M172.90,180.7L176.3,177.30L179.70,180.7L176.3,184.10Z" fill="#f5b400" stroke="#5a4200" stroke-width="0.6"/>
<path d="M176.10,180.7L179.5,177.30L182.90,180.7L179.5,184.10Z" fill="#f5b400" stroke="#5a4200" stroke-width="0.6"/>
<path d="M177.70,180.7L181.1,177.30L184.50,180.7L181.1,184.10Z" fill="#f5b400" stroke="#5a4200" stroke-width="0.6"/>
<path d="M182.50,180.7L185.9,177.30L189.30,180.7L185.9,184.10Z" fill="#f5b400" stroke="#5a4200" stroke-width="0.6"/>
<path d="M186.60,180.7L190.0,177.30L193.40,180.7L190.0,184.10Z" fill="#f5b400" stroke="#5a4200" stroke-width="0.6"/>
<path d="M191.50,180.7L194.9,177.30L198.30,180.7L194.9,184.10Z" fill="#f5b400" stroke="#5a4200" stroke-width="0.6"/>
<path d="M194.10,180.7L197.5,177.30L200.90,180.7L197.5,184.10Z" fill="#f5b400" stroke="#5a4200" stroke-width="0.6"/>
<path d="M197.60,180.7L201,177.30L204.40,180.7L201,184.10Z" fill="#f5b400" stroke="#5a4200" stroke-width="0.6"/>
<path d="M200.10,180.7L203.5,177.30L206.90,180.7L203.5,184.10Z" fill="#f5b400" stroke="#5a4200" stroke-width="0.6"/>
<path d="M204.10,180.7L207.5,177.30L210.90,180.7L207.5,184.10Z" fill="#f5b400" stroke="#5a4200" stroke-width="0.6"/>
<path d="M209.10,180.7L212.5,177.30L215.90,180.7L212.5,184.10Z" fill="#f5b400" stroke="#5a4200" stroke-width="0.6"/>
<path d="M211.60,180.7L215,177.30L218.40,180.7L215,184.10Z" fill="#f5b400" stroke="#5a4200" stroke-width="0.6"/>
<path d="M215.10,180.7L218.5,177.30L221.90,180.7L218.5,184.10Z" fill="#f5b400" stroke="#5a4200" stroke-width="0.6"/>
<path d="M217.10,180.7L220.5,177.30L223.90,180.7L220.5,184.10Z" fill="#f5b400" stroke="#5a4200" stroke-width="0.6"/>
<path d="M221.60,180.7L225,177.30L228.40,180.7L225,184.10Z" fill="#f5b400" stroke="#5a4200" stroke-width="0.6"/>
<path d="M226.10,180.7L229.5,177.30L232.90,180.7L229.5,184.10Z" fill="#f5b400" stroke="#5a4200" stroke-width="0.6"/>
<path d="M229.60,180.7L233,177.30L236.40,180.7L233,184.10Z" fill="#f5b400" stroke="#5a4200" stroke-width="0.6"/>
<circle cx="187.50" cy="180.7" r="3.3" fill="#f5b400" stroke="#5a4200" stroke-width="0.6"/>
<circle cx="211.00" cy="180.7" r="3.3" fill="#f5b400" stroke="#5a4200" stroke-width="0.6"/>
<circle cx="223.00" cy="180.7" r="3.3" fill="#f5b400" stroke="#5a4200" stroke-width="0.6"/>
<path d="M126.6,180.7H168.5M126.6,179.2V182.2M168.5,179.2V182.2" stroke="#111" stroke-width="1.25" fill="none"/>
<path d="M148.10,177.40 L149.12,179.60 L151.52,179.89 L149.74,181.53 L150.22,183.91 L148.10,182.73 L145.98,183.91 L146.46,181.53 L144.68,179.89 L147.08,179.60 Z" fill="#ffffff" stroke="#333" stroke-width="0.55"/>
<circle cx="150.50" cy="177.0" r="1.7" fill="#ffffff" stroke="#666" stroke-width="0.4"/>
<path d="M123.8,167.2H163.8M123.8,165.39999999999998V169.0M163.8,165.39999999999998V169.0" stroke="#111" stroke-width="1.25" fill="none"/>
<path d="M143.50,163.80 L144.49,165.94 L146.83,166.22 L145.10,167.82 L145.56,170.13 L143.50,168.98 L141.44,170.13 L141.90,167.82 L140.17,166.22 L142.51,165.94 Z" fill="#ffee00" stroke="#333" stroke-width="0.55"/>
<path d="M130.0,173.2H170.7M130.0,171.39999999999998V175.0M170.7,171.39999999999998V175.0" stroke="#111" stroke-width="1.25" fill="none"/>
<path d="M150.10,169.80 L151.09,171.94 L153.43,172.22 L151.70,173.82 L152.16,176.13 L150.10,174.98 L148.04,176.13 L148.50,173.82 L146.77,172.22 L149.11,171.94 Z" fill="#ffee00" stroke="#333" stroke-width="0.55"/>
<path d="M104.0,185.9H144.3M104.0,184.1V187.70000000000002M144.3,184.1V187.70000000000002" stroke="#111" stroke-width="1.25" fill="none"/>
<path d="M124.10,182.70 L125.09,184.84 L127.43,185.12 L125.70,186.72 L126.16,189.03 L124.10,187.88 L122.04,189.03 L122.50,186.72 L120.77,185.12 L123.11,184.84 Z" fill="#ffee00" stroke="#333" stroke-width="0.55"/>
<path d="M151.7,185.9H192.1M151.7,184.1V187.70000000000002M192.1,184.1V187.70000000000002" stroke="#111" stroke-width="1.25" fill="none"/>
<path d="M172.00,182.70 L172.99,184.84 L175.33,185.12 L173.60,186.72 L174.06,189.03 L172.00,187.88 L169.94,189.03 L170.40,186.72 L168.67,185.12 L171.01,184.84 Z" fill="#ffee00" stroke="#333" stroke-width="0.55"/>
<text x="146.0" y="159.0" font-size="7.2" text-anchor="middle" stroke="#111" stroke-width="0.12" font-style="italic" fill="#111" textLength="17.2" lengthAdjust="spacingAndGlyphs">Mgt-4</text>
<text x="167.4" y="168.4" font-size="7.2" text-anchor="start" stroke="#111" stroke-width="0.12" font-style="italic" fill="#111" textLength="17.2" lengthAdjust="spacingAndGlyphs">Mgt-3</text>
<text x="125.4" y="195.3" font-size="7.2" text-anchor="middle" stroke="#111" stroke-width="0.12" font-style="italic" fill="#111" textLength="17.2" lengthAdjust="spacingAndGlyphs">Mgt-2</text>
<text x="171.5" y="195.3" font-size="7.2" text-anchor="middle" stroke="#111" stroke-width="0.12" font-style="italic" fill="#111" textLength="17.2" lengthAdjust="spacingAndGlyphs">Mgt-1</text>
<text x="254.3" y="181.9" font-size="5.9" text-anchor="start" stroke="#3a3a3a" stroke-width="0.12" font-style="italic" fill="#3a3a3a" textLength="14.8" lengthAdjust="spacingAndGlyphs">N=146</text>
<path d="M68.4,230.3H207.5" stroke="#383838" stroke-width="1.5"/>
<path d="M84.00,230.3L87.3,227.00L90.60,230.3L87.3,233.60Z" fill="#cfb8ee" stroke="#5a3d7a" stroke-width="0.6"/>
<path d="M86.10,230.3L89.4,227.00L92.70,230.3L89.4,233.60Z" fill="#cfb8ee" stroke="#5a3d7a" stroke-width="0.6"/>
<path d="M90.30,230.3L93.6,227.00L96.90,230.3L93.6,233.60Z" fill="#cfb8ee" stroke="#5a3d7a" stroke-width="0.6"/>
<path d="M91.40,230.3L94.7,227.00L98.00,230.3L94.7,233.60Z" fill="#cfb8ee" stroke="#5a3d7a" stroke-width="0.6"/>
<path d="M98.20,230.3L101.5,227.00L104.80,230.3L101.5,233.60Z" fill="#cfb8ee" stroke="#5a3d7a" stroke-width="0.6"/>
<path d="M108.80,230.3L112,227.10L115.20,230.3L112,233.50Z" fill="#cfb8ee" stroke="#5a3d7a" stroke-width="0.6"/>
<path d="M111.80,230.3L115.0,227.10L118.20,230.3L115.0,233.50Z" fill="#cfb8ee" stroke="#5a3d7a" stroke-width="0.6"/>
<path d="M114.80,230.3L118.0,227.10L121.20,230.3L118.0,233.50Z" fill="#cfb8ee" stroke="#5a3d7a" stroke-width="0.6"/>
<path d="M117.80,230.3L121.0,227.10L124.20,230.3L121.0,233.50Z" fill="#cfb8ee" stroke="#5a3d7a" stroke-width="0.6"/>
<path d="M120.80,230.3L124.0,227.10L127.20,230.3L124.0,233.50Z" fill="#cfb8ee" stroke="#5a3d7a" stroke-width="0.6"/>
<path d="M123.80,230.3L127.0,227.10L130.20,230.3L127.0,233.50Z" fill="#cfb8ee" stroke="#5a3d7a" stroke-width="0.6"/>
<path d="M126.80,230.3L130.0,227.10L133.20,230.3L130.0,233.50Z" fill="#cfb8ee" stroke="#5a3d7a" stroke-width="0.6"/>
<path d="M129.80,230.3L133.0,227.10L136.20,230.3L133.0,233.50Z" fill="#cfb8ee" stroke="#5a3d7a" stroke-width="0.6"/>
<path d="M132.80,230.3L136.0,227.10L139.20,230.3L136.0,233.50Z" fill="#cfb8ee" stroke="#5a3d7a" stroke-width="0.6"/>
<path d="M135.80,230.3L139.0,227.10L142.20,230.3L139.0,233.50Z" fill="#cfb8ee" stroke="#5a3d7a" stroke-width="0.6"/>
<path d="M138.80,230.3L142.0,227.10L145.20,230.3L142.0,233.50Z" fill="#cfb8ee" stroke="#5a3d7a" stroke-width="0.6"/>
<path d="M141.80,230.3L145.0,227.10L148.20,230.3L145.0,233.50Z" fill="#cfb8ee" stroke="#5a3d7a" stroke-width="0.6"/>
<path d="M144.80,230.3L148.0,227.10L151.20,230.3L148.0,233.50Z" fill="#cfb8ee" stroke="#5a3d7a" stroke-width="0.6"/>
<path d="M147.80,230.3L151.0,227.10L154.20,230.3L151.0,233.50Z" fill="#cfb8ee" stroke="#5a3d7a" stroke-width="0.6"/>
<path d="M151.40,230.3L154.7,227.00L158.00,230.3L154.7,233.60Z" fill="#cfb8ee" stroke="#5a3d7a" stroke-width="0.6"/>
<path d="M155.00,230.3L158.3,227.00L161.60,230.3L158.3,233.60Z" fill="#cfb8ee" stroke="#5a3d7a" stroke-width="0.6"/>
<path d="M159.20,230.3L162.5,227.00L165.80,230.3L162.5,233.60Z" fill="#cfb8ee" stroke="#5a3d7a" stroke-width="0.6"/>
<path d="M162.40,230.3L165.7,227.00L169.00,230.3L165.7,233.60Z" fill="#cfb8ee" stroke="#5a3d7a" stroke-width="0.6"/>
<path d="M169.20,230.3L172.5,227.00L175.80,230.3L172.5,233.60Z" fill="#cfb8ee" stroke="#5a3d7a" stroke-width="0.6"/>
<path d="M178.10,230.3L181.4,227.00L184.70,230.3L181.4,233.60Z" fill="#cfb8ee" stroke="#5a3d7a" stroke-width="0.6"/>
<path d="M182.80,230.3L186.1,227.00L189.40,230.3L186.1,233.60Z" fill="#cfb8ee" stroke="#5a3d7a" stroke-width="0.6"/>
<path d="M186.50,230.3L189.8,227.00L193.10,230.3L189.8,233.60Z" fill="#cfb8ee" stroke="#5a3d7a" stroke-width="0.6"/>
<rect x="104.2" y="226.9" width="7" height="6.8" fill="#8a5ac8" stroke="#4a2d6a" stroke-width="0.5"/>
<path d="M104.20,230.3L107.5,227.00L110.80,230.3L107.5,233.60Z" fill="#a47ad8" stroke="#5a3d7a" stroke-width="0.6"/>
<circle cx="121.50" cy="230.3" r="3.3" fill="#9a62d8" stroke="#5a3d7a" stroke-width="0.6"/>
<circle cx="125.10" cy="230.3" r="3.3" fill="#9a62d8" stroke="#5a3d7a" stroke-width="0.6"/>
<path d="M111.4,230.3H150.5M111.4,228.8V231.8M150.5,228.8V231.8" stroke="#111" stroke-width="1.25" fill="none"/>
<path d="M131.40,227.00 L132.42,229.20 L134.82,229.49 L133.04,231.13 L133.52,233.51 L131.40,232.33 L129.28,233.51 L129.76,231.13 L127.98,229.49 L130.38,229.20 Z" fill="#ffffff" stroke="#333" stroke-width="0.55"/>
<path d="M103.7,224.0H144.4M103.7,222.2V225.8M144.4,222.2V225.8" stroke="#111" stroke-width="1.25" fill="none"/>
<path d="M124.20,220.60 L125.19,222.74 L127.53,223.02 L125.80,224.62 L126.26,226.93 L124.20,225.78 L122.14,226.93 L122.60,224.62 L120.87,223.02 L123.21,222.74 Z" fill="#ffee00" stroke="#333" stroke-width="0.55"/>
<path d="M124.7,235.6H165.7M124.7,233.79999999999998V237.4M165.7,233.79999999999998V237.4" stroke="#111" stroke-width="1.25" fill="none"/>
<path d="M145.00,232.20 L145.99,234.34 L148.33,234.62 L146.60,236.22 L147.06,238.53 L145.00,237.38 L142.94,238.53 L143.40,236.22 L141.67,234.62 L144.01,234.34 Z" fill="#ffee00" stroke="#333" stroke-width="0.55"/>
<text x="125.2" y="216.0" font-size="7.2" text-anchor="middle" stroke="#111" stroke-width="0.12" font-style="italic" fill="#111" textLength="17.2" lengthAdjust="spacingAndGlyphs">Mgt-2</text>
<text x="144.9" y="245.1" font-size="7.2" text-anchor="middle" stroke="#111" stroke-width="0.12" font-style="italic" fill="#111" textLength="17.2" lengthAdjust="spacingAndGlyphs">Mgt-1</text>
<text x="210.4" y="230.70000000000002" font-size="5.9" text-anchor="start" stroke="#3a3a3a" stroke-width="0.12" font-style="italic" fill="#3a3a3a" textLength="11.9" lengthAdjust="spacingAndGlyphs">N=63</text>
<path d="M76.0,271.0H287.8" stroke="#383838" stroke-width="1.5"/>
<path d="M92.20,271.0L95.5,267.70L98.80,271.0L95.5,274.30Z" fill="#8d55d2" stroke="#2e1840" stroke-width="0.6"/>
<path d="M95.20,271.0L98.5,267.70L101.80,271.0L98.5,274.30Z" fill="#8d55d2" stroke="#2e1840" stroke-width="0.6"/>
<path d="M98.20,271.0L101.5,267.70L104.80,271.0L101.5,274.30Z" fill="#8d55d2" stroke="#2e1840" stroke-width="0.6"/>
<path d="M101.20,271.0L104.5,267.70L107.80,271.0L104.5,274.30Z" fill="#8d55d2" stroke="#2e1840" stroke-width="0.6"/>
<path d="M104.70,271.0L108,267.70L111.30,271.0L108,274.30Z" fill="#8d55d2" stroke="#2e1840" stroke-width="0.6"/>
<path d="M108.20,271.0L111.5,267.70L114.80,271.0L111.5,274.30Z" fill="#8d55d2" stroke="#2e1840" stroke-width="0.6"/>
<path d="M111.20,271.0L114.5,267.70L117.80,271.0L114.5,274.30Z" fill="#8d55d2" stroke="#2e1840" stroke-width="0.6"/>
<path d="M114.70,271.0L118,267.70L121.30,271.0L118,274.30Z" fill="#8d55d2" stroke="#2e1840" stroke-width="0.6"/>
<path d="M118.20,271.0L121.5,267.70L124.80,271.0L121.5,274.30Z" fill="#8d55d2" stroke="#2e1840" stroke-width="0.6"/>
<circle cx="131.00" cy="271.0" r="3.3" fill="#7e40c4" stroke="#2e1840" stroke-width="0.6"/>
<circle cx="134.00" cy="271.0" r="3.3" fill="#7e40c4" stroke="#2e1840" stroke-width="0.6"/>
<circle cx="141.00" cy="271.0" r="3.3" fill="#7e40c4" stroke="#2e1840" stroke-width="0.6"/>
<circle cx="144.00" cy="271.0" r="3.3" fill="#7e40c4" stroke="#2e1840" stroke-width="0.6"/>
<circle cx="147.50" cy="271.0" r="3.3" fill="#7e40c4" stroke="#2e1840" stroke-width="0.6"/>
<circle cx="151.00" cy="271.0" r="3.3" fill="#7e40c4" stroke="#2e1840" stroke-width="0.6"/>
<circle cx="154.00" cy="271.0" r="3.3" fill="#7e40c4" stroke="#2e1840" stroke-width="0.6"/>
<path d="M134.20,271.0L137.5,267.70L140.80,271.0L137.5,274.30Z" fill="#8d55d2" stroke="#2e1840" stroke-width="0.6"/>
<circle cx="163.80" cy="271.0" r="3.3" fill="#7e40c4" stroke="#2e1840" stroke-width="0.6"/>
<circle cx="166.00" cy="271.0" r="3.3" fill="#7e40c4" stroke="#2e1840" stroke-width="0.6"/>
<circle cx="173.30" cy="271.0" r="3.3" fill="#7e40c4" stroke="#2e1840" stroke-width="0.6"/>
<circle cx="176.00" cy="271.0" r="3.3" fill="#7e40c4" stroke="#2e1840" stroke-width="0.6"/>
<circle cx="186.00" cy="271.0" r="3.3" fill="#7e40c4" stroke="#2e1840" stroke-width="0.6"/>
<circle cx="189.00" cy="271.0" r="3.3" fill="#7e40c4" stroke="#2e1840" stroke-width="0.6"/>
<circle cx="192.00" cy="271.0" r="3.3" fill="#7e40c4" stroke="#2e1840" stroke-width="0.6"/>
<circle cx="195.00" cy="271.0" r="3.3" fill="#7e40c4" stroke="#2e1840" stroke-width="0.6"/>
<circle cx="198.50" cy="271.0" r="3.3" fill="#7e40c4" stroke="#2e1840" stroke-width="0.6"/>
<path d="M198.70,271.0L202,267.70L205.30,271.0L202,274.30Z" fill="#8d55d2" stroke="#2e1840" stroke-width="0.6"/>
<path d="M201.70,271.0L205,267.70L208.30,271.0L205,274.30Z" fill="#8d55d2" stroke="#2e1840" stroke-width="0.6"/>
<path d="M204.70,271.0L208,267.70L211.30,271.0L208,274.30Z" fill="#8d55d2" stroke="#2e1840" stroke-width="0.6"/>
<path d="M207.70,271.0L211,267.70L214.30,271.0L211,274.30Z" fill="#8d55d2" stroke="#2e1840" stroke-width="0.6"/>
<path d="M210.70,271.0L214,267.70L217.30,271.0L214,274.30Z" fill="#8d55d2" stroke="#2e1840" stroke-width="0.6"/>
<path d="M213.70,271.0L217,267.70L220.30,271.0L217,274.30Z" fill="#8d55d2" stroke="#2e1840" stroke-width="0.6"/>
<path d="M216.70,271.0L220,267.70L223.30,271.0L220,274.30Z" fill="#8d55d2" stroke="#2e1840" stroke-width="0.6"/>
<path d="M219.70,271.0L223,267.70L226.30,271.0L223,274.30Z" fill="#8d55d2" stroke="#2e1840" stroke-width="0.6"/>
<path d="M222.70,271.0L226,267.70L229.30,271.0L226,274.30Z" fill="#8d55d2" stroke="#2e1840" stroke-width="0.6"/>
<path d="M225.70,271.0L229,267.70L232.30,271.0L229,274.30Z" fill="#8d55d2" stroke="#2e1840" stroke-width="0.6"/>
<path d="M228.70,271.0L232,267.70L235.30,271.0L232,274.30Z" fill="#8d55d2" stroke="#2e1840" stroke-width="0.6"/>
<path d="M231.70,271.0L235,267.70L238.30,271.0L235,274.30Z" fill="#8d55d2" stroke="#2e1840" stroke-width="0.6"/>
<path d="M243.20,271.0L246.5,267.70L249.80,271.0L246.5,274.30Z" fill="#8d55d2" stroke="#2e1840" stroke-width="0.6"/>
<path d="M246.70,271.0L250,267.70L253.30,271.0L250,274.30Z" fill="#8d55d2" stroke="#2e1840" stroke-width="0.6"/>
<path d="M249.70,271.0L253,267.70L256.30,271.0L253,274.30Z" fill="#8d55d2" stroke="#2e1840" stroke-width="0.6"/>
<path d="M252.70,271.0L256,267.70L259.30,271.0L256,274.30Z" fill="#8d55d2" stroke="#2e1840" stroke-width="0.6"/>
<circle cx="268.90" cy="271.0" r="3.5" fill="#7e40c4" stroke="#2e1840" stroke-width="0.6"/>
<path d="M162.0,271.0H203.0M162.0,269.5V272.5M203.0,269.5V272.5" stroke="#111" stroke-width="1.25" fill="none"/>
<path d="M182.60,267.70 L183.62,269.90 L186.02,270.19 L184.24,271.83 L184.72,274.21 L182.60,273.03 L180.48,274.21 L180.96,271.83 L179.18,270.19 L181.58,269.90 Z" fill="#ffffff" stroke="#333" stroke-width="0.55"/>
<path d="M137.6,264.7H178.6M137.6,262.9V266.5M178.6,262.9V266.5" stroke="#111" stroke-width="1.25" fill="none"/>
<path d="M157.80,261.30 L158.79,263.44 L161.13,263.72 L159.40,265.32 L159.86,267.63 L157.80,266.48 L155.74,267.63 L156.20,265.32 L154.47,263.72 L156.81,263.44 Z" fill="#ffee00" stroke="#333" stroke-width="0.55"/>
<path d="M169.8,276.5H209.3M169.8,274.7V278.3M209.3,274.7V278.3" stroke="#111" stroke-width="1.25" fill="none"/>
<path d="M189.90,273.30 L190.89,275.44 L193.23,275.72 L191.50,277.32 L191.96,279.63 L189.90,278.48 L187.84,279.63 L188.30,277.32 L186.57,275.72 L188.91,275.44 Z" fill="#ffee00" stroke="#333" stroke-width="0.55"/>
<text x="159.2" y="257.2" font-size="7.2" text-anchor="middle" stroke="#111" stroke-width="0.12" font-style="italic" fill="#111" textLength="17.2" lengthAdjust="spacingAndGlyphs">Mgt-2</text>
<text x="189.4" y="285.5" font-size="7.2" text-anchor="middle" stroke="#111" stroke-width="0.12" font-style="italic" fill="#111" textLength="17.2" lengthAdjust="spacingAndGlyphs">Mgt-1</text>
<text x="290.2" y="272.1" font-size="5.9" text-anchor="start" stroke="#3a3a3a" stroke-width="0.12" font-style="italic" fill="#3a3a3a" textLength="11.9" lengthAdjust="spacingAndGlyphs">N=73</text>
<path d="M95.6,312.8H293.8" stroke="#383838" stroke-width="1.5"/>
<rect x="112.0" y="309.30" width="166.30" height="7.0" rx="3.2" fill="#b85a5a"/>
<circle cx="115.50" cy="312.8" r="3.3" fill="#f37a7a" stroke="#6a2a2a" stroke-width="0.6"/>
<circle cx="122.50" cy="312.8" r="3.3" fill="#f37a7a" stroke="#6a2a2a" stroke-width="0.6"/>
<circle cx="127.00" cy="312.8" r="3.3" fill="#f37a7a" stroke="#6a2a2a" stroke-width="0.6"/>
<circle cx="132.00" cy="312.8" r="3.3" fill="#f37a7a" stroke="#6a2a2a" stroke-width="0.6"/>
<circle cx="139.40" cy="312.8" r="3.3" fill="#f37a7a" stroke="#6a2a2a" stroke-width="0.6"/>
<circle cx="144.00" cy="312.8" r="3.3" fill="#f37a7a" stroke="#6a2a2a" stroke-width="0.6"/>
<circle cx="148.10" cy="312.8" r="3.3" fill="#f37a7a" stroke="#6a2a2a" stroke-width="0.6"/>
<circle cx="153.00" cy="312.8" r="3.3" fill="#f37a7a" stroke="#6a2a2a" stroke-width="0.6"/>
<circle cx="159.60" cy="312.8" r="3.3" fill="#f37a7a" stroke="#6a2a2a" stroke-width="0.6"/>
<circle cx="164.30" cy="312.8" r="3.3" fill="#f37a7a" stroke="#6a2a2a" stroke-width="0.6"/>
<circle cx="170.00" cy="312.8" r="3.3" fill="#f37a7a" stroke="#6a2a2a" stroke-width="0.6"/>
<circle cx="176.00" cy="312.8" r="3.3" fill="#f37a7a" stroke="#6a2a2a" stroke-width="0.6"/>
<circle cx="182.00" cy="312.8" r="3.3" fill="#f37a7a" stroke="#6a2a2a" stroke-width="0.6"/>
<circle cx="188.00" cy="312.8" r="3.3" fill="#f37a7a" stroke="#6a2a2a" stroke-width="0.6"/>
<circle cx="196.00" cy="312.8" r="3.3" fill="#f37a7a" stroke="#6a2a2a" stroke-width="0.6"/>
<circle cx="203.00" cy="312.8" r="3.3" fill="#f37a7a" stroke="#6a2a2a" stroke-width="0.6"/>
<circle cx="210.00" cy="312.8" r="3.3" fill="#f37a7a" stroke="#6a2a2a" stroke-width="0.6"/>
<circle cx="218.80" cy="312.8" r="3.3" fill="#f37a7a" stroke="#6a2a2a" stroke-width="0.6"/>
<circle cx="224.60" cy="312.8" r="3.3" fill="#f37a7a" stroke="#6a2a2a" stroke-width="0.6"/>
<circle cx="229.00" cy="312.8" r="3.3" fill="#f37a7a" stroke="#6a2a2a" stroke-width="0.6"/>
<circle cx="233.70" cy="312.8" r="3.3" fill="#f37a7a" stroke="#6a2a2a" stroke-width="0.6"/>
<circle cx="239.00" cy="312.8" r="3.3" fill="#f37a7a" stroke="#6a2a2a" stroke-width="0.6"/>
<circle cx="244.40" cy="312.8" r="3.3" fill="#f37a7a" stroke="#6a2a2a" stroke-width="0.6"/>
<circle cx="250.10" cy="312.8" r="3.3" fill="#f37a7a" stroke="#6a2a2a" stroke-width="0.6"/>
<circle cx="256.70" cy="312.8" r="3.3" fill="#f37a7a" stroke="#6a2a2a" stroke-width="0.6"/>
<circle cx="262.00" cy="312.8" r="3.3" fill="#f37a7a" stroke="#6a2a2a" stroke-width="0.6"/>
<circle cx="267.40" cy="312.8" r="3.3" fill="#f37a7a" stroke="#6a2a2a" stroke-width="0.6"/>
<circle cx="271.00" cy="312.8" r="3.3" fill="#f37a7a" stroke="#6a2a2a" stroke-width="0.6"/>
<circle cx="274.80" cy="312.8" r="3.3" fill="#f37a7a" stroke="#6a2a2a" stroke-width="0.6"/>
<path d="M170.5,312.6H211.0M170.5,311.1V314.1M211.0,311.1V314.1" stroke="#111" stroke-width="1.25" fill="none"/>
<path d="M190.60,308.30 L191.59,310.44 L193.93,310.72 L192.20,312.32 L192.66,314.63 L190.60,313.48 L188.54,314.63 L189.00,312.32 L187.27,310.72 L189.61,310.44 Z" fill="#ffee00" stroke="#333" stroke-width="0.55"/>
<text x="190.7" y="302.9" font-size="7.2" text-anchor="middle" stroke="#111" stroke-width="0.12" font-style="italic" fill="#111" textLength="17.2" lengthAdjust="spacingAndGlyphs">Mgt-4</text>
<text x="296.9" y="313.6" font-size="5.9" text-anchor="start" stroke="#3a3a3a" stroke-width="0.12" font-style="italic" fill="#3a3a3a" textLength="14.2" lengthAdjust="spacingAndGlyphs">N=189</text>
<path d="M89.1,353.4H363.0" stroke="#383838" stroke-width="1.5"/>
<rect x="141" y="349.90" width="35.00" height="7.0" rx="3.2" fill="#a01818"/>
<rect x="228" y="349.90" width="88.50" height="7.0" rx="3.2" fill="#a01818"/>
<circle cx="109.30" cy="353.4" r="3.5" fill="#ee1010" stroke="#5a0c0c" stroke-width="0.6"/>
<circle cx="126.20" cy="353.4" r="3.5" fill="#ee1010" stroke="#5a0c0c" stroke-width="0.6"/>
<circle cx="135.90" cy="353.4" r="3.5" fill="#ee1010" stroke="#5a0c0c" stroke-width="0.6"/>
<circle cx="144.20" cy="353.4" r="3.5" fill="#ee1010" stroke="#5a0c0c" stroke-width="0.6"/>
<circle cx="150.10" cy="353.4" r="3.5" fill="#ee1010" stroke="#5a0c0c" stroke-width="0.6"/>
<circle cx="156.10" cy="353.4" r="3.5" fill="#ee1010" stroke="#5a0c0c" stroke-width="0.6"/>
<circle cx="161.40" cy="353.4" r="3.5" fill="#ee1010" stroke="#5a0c0c" stroke-width="0.6"/>
<circle cx="166.60" cy="353.4" r="3.5" fill="#ee1010" stroke="#5a0c0c" stroke-width="0.6"/>
<circle cx="173.40" cy="353.4" r="3.5" fill="#ee1010" stroke="#5a0c0c" stroke-width="0.6"/>
<circle cx="176.00" cy="353.4" r="3.4" fill="#e81414" stroke="#7a1010" stroke-width="0.6"/>
<circle cx="178.20" cy="353.4" r="3.4" fill="#e81414" stroke="#7a1010" stroke-width="0.6"/>
<circle cx="180.40" cy="353.4" r="3.4" fill="#e81414" stroke="#7a1010" stroke-width="0.6"/>
<circle cx="182.60" cy="353.4" r="3.4" fill="#e81414" stroke="#7a1010" stroke-width="0.6"/>
<circle cx="184.80" cy="353.4" r="3.4" fill="#e81414" stroke="#7a1010" stroke-width="0.6"/>
<circle cx="187.00" cy="353.4" r="3.4" fill="#e81414" stroke="#7a1010" stroke-width="0.6"/>
<circle cx="189.20" cy="353.4" r="3.4" fill="#e81414" stroke="#7a1010" stroke-width="0.6"/>
<circle cx="191.40" cy="353.4" r="3.4" fill="#e81414" stroke="#7a1010" stroke-width="0.6"/>
<circle cx="193.60" cy="353.4" r="3.4" fill="#e81414" stroke="#7a1010" stroke-width="0.6"/>
<circle cx="195.80" cy="353.4" r="3.4" fill="#e81414" stroke="#7a1010" stroke-width="0.6"/>
<circle cx="198.00" cy="353.4" r="3.4" fill="#e81414" stroke="#7a1010" stroke-width="0.6"/>
<circle cx="200.20" cy="353.4" r="3.4" fill="#e81414" stroke="#7a1010" stroke-width="0.6"/>
<circle cx="202.40" cy="353.4" r="3.4" fill="#e81414" stroke="#7a1010" stroke-width="0.6"/>
<circle cx="204.60" cy="353.4" r="3.4" fill="#e81414" stroke="#7a1010" stroke-width="0.6"/>
<circle cx="206.80" cy="353.4" r="3.4" fill="#e81414" stroke="#7a1010" stroke-width="0.6"/>
<circle cx="209.00" cy="353.4" r="3.4" fill="#e81414" stroke="#7a1010" stroke-width="0.6"/>
<circle cx="211.20" cy="353.4" r="3.4" fill="#e81414" stroke="#7a1010" stroke-width="0.6"/>
<circle cx="213.40" cy="353.4" r="3.4" fill="#e81414" stroke="#7a1010" stroke-width="0.6"/>
<circle cx="215.60" cy="353.4" r="3.4" fill="#e81414" stroke="#7a1010" stroke-width="0.6"/>
<circle cx="217.80" cy="353.4" r="3.4" fill="#e81414" stroke="#7a1010" stroke-width="0.6"/>
<circle cx="220.00" cy="353.4" r="3.4" fill="#e81414" stroke="#7a1010" stroke-width="0.6"/>
<circle cx="222.20" cy="353.4" r="3.4" fill="#e81414" stroke="#7a1010" stroke-width="0.6"/>
<circle cx="224.40" cy="353.4" r="3.4" fill="#e81414" stroke="#7a1010" stroke-width="0.6"/>
<circle cx="226.60" cy="353.4" r="3.4" fill="#e81414" stroke="#7a1010" stroke-width="0.6"/>
<circle cx="235.70" cy="353.4" r="3.5" fill="#ee1010" stroke="#5a0c0c" stroke-width="0.6"/>
<circle cx="240.00" cy="353.4" r="3.5" fill="#ee1010" stroke="#5a0c0c" stroke-width="0.6"/>
<circle cx="245.90" cy="353.4" r="3.5" fill="#ee1010" stroke="#5a0c0c" stroke-width="0.6"/>
<circle cx="251.00" cy="353.4" r="3.5" fill="#ee1010" stroke="#5a0c0c" stroke-width="0.6"/>
<circle cx="256.00" cy="353.4" r="3.5" fill="#ee1010" stroke="#5a0c0c" stroke-width="0.6"/>
<circle cx="261.00" cy="353.4" r="3.5" fill="#ee1010" stroke="#5a0c0c" stroke-width="0.6"/>
<circle cx="265.00" cy="353.4" r="3.5" fill="#ee1010" stroke="#5a0c0c" stroke-width="0.6"/>
<circle cx="269.00" cy="353.4" r="3.5" fill="#ee1010" stroke="#5a0c0c" stroke-width="0.6"/>
<circle cx="273.90" cy="353.4" r="3.5" fill="#ee1010" stroke="#5a0c0c" stroke-width="0.6"/>
<circle cx="276.40" cy="353.4" r="3.5" fill="#ee1010" stroke="#5a0c0c" stroke-width="0.6"/>
<circle cx="282.00" cy="353.4" r="3.5" fill="#ee1010" stroke="#5a0c0c" stroke-width="0.6"/>
<circle cx="287.90" cy="353.4" r="3.5" fill="#ee1010" stroke="#5a0c0c" stroke-width="0.6"/>
<circle cx="292.00" cy="353.4" r="3.5" fill="#ee1010" stroke="#5a0c0c" stroke-width="0.6"/>
<circle cx="296.80" cy="353.4" r="3.5" fill="#ee1010" stroke="#5a0c0c" stroke-width="0.6"/>
<circle cx="301.90" cy="353.4" r="3.5" fill="#ee1010" stroke="#5a0c0c" stroke-width="0.6"/>
<circle cx="306.00" cy="353.4" r="3.5" fill="#ee1010" stroke="#5a0c0c" stroke-width="0.6"/>
<circle cx="310.80" cy="353.4" r="3.5" fill="#ee1010" stroke="#5a0c0c" stroke-width="0.6"/>
<circle cx="314.00" cy="353.4" r="3.5" fill="#ee1010" stroke="#5a0c0c" stroke-width="0.6"/>
<circle cx="331.10" cy="353.4" r="3.5" fill="#ee1010" stroke="#5a0c0c" stroke-width="0.6"/>
<circle cx="340.00" cy="353.4" r="3.5" fill="#ee1010" stroke="#5a0c0c" stroke-width="0.6"/>
<circle cx="342.60" cy="353.4" r="3.5" fill="#ee1010" stroke="#5a0c0c" stroke-width="0.6"/>
<path d="M176.0,352.2H217.0M176.0,350.7V353.7M217.0,350.7V353.7" stroke="#111" stroke-width="1.25" fill="none"/>
<path d="M196.60,348.60 L197.62,350.80 L200.02,351.09 L198.24,352.73 L198.72,355.11 L196.60,353.93 L194.48,355.11 L194.96,352.73 L193.18,351.09 L195.58,350.80 Z" fill="#ffffff" stroke="#333" stroke-width="0.55"/>
<path d="M179.9,346.7H220.1M179.9,344.9V348.5M220.1,344.9V348.5" stroke="#111" stroke-width="1.25" fill="none"/>
<path d="M200.30,343.30 L201.29,345.44 L203.63,345.72 L201.90,347.32 L202.36,349.63 L200.30,348.48 L198.24,349.63 L198.70,347.32 L196.97,345.72 L199.31,345.44 Z" fill="#ffee00" stroke="#333" stroke-width="0.55"/>
<path d="M162.4,358.8H201.3M162.4,357.0V360.6M201.3,357.0V360.6" stroke="#111" stroke-width="1.25" fill="none"/>
<path d="M182.10,355.60 L183.09,357.74 L185.43,358.02 L183.70,359.62 L184.16,361.93 L182.10,360.78 L180.04,361.93 L180.50,359.62 L178.77,358.02 L181.11,357.74 Z" fill="#ffee00" stroke="#333" stroke-width="0.55"/>
<path d="M215.5,358.5H255.6M215.5,356.7V360.3M255.6,356.7V360.3" stroke="#111" stroke-width="1.25" fill="none"/>
<path d="M235.20,355.00 L236.19,357.14 L238.53,357.42 L236.80,359.02 L237.26,361.33 L235.20,360.18 L233.14,361.33 L233.60,359.02 L231.87,357.42 L234.21,357.14 Z" fill="#ffee00" stroke="#333" stroke-width="0.55"/>
<text x="201.3" y="338.6" font-size="7.2" text-anchor="middle" stroke="#111" stroke-width="0.12" font-style="italic" fill="#111" textLength="17.2" lengthAdjust="spacingAndGlyphs">Mgt-2</text>
<text x="181.3" y="367.6" font-size="7.2" text-anchor="middle" stroke="#111" stroke-width="0.12" font-style="italic" fill="#111" textLength="17.2" lengthAdjust="spacingAndGlyphs">Mgt-3</text>
<text x="235.2" y="367.3" font-size="7.2" text-anchor="middle" stroke="#111" stroke-width="0.12" font-style="italic" fill="#111" textLength="17.2" lengthAdjust="spacingAndGlyphs">Mgt-1</text>
<text x="362.9" y="354.1" font-size="5.9" text-anchor="start" stroke="#3a3a3a" stroke-width="0.12" font-style="italic" fill="#3a3a3a" textLength="15.1" lengthAdjust="spacingAndGlyphs">N=542</text>
<rect x="288.1" y="43.9" width="95.89999999999999" height="75.19999999999999" fill="#fff" stroke="#8a8a8a" stroke-width="0.9"/>
<circle cx="296.5" cy="52.2" r="3.2" fill="#fff" stroke="#333" stroke-width="0.7"/>
<path d="M293.3,61.3L296.5,58.1L299.7,61.3L296.5,64.5Z" fill="#fff" stroke="#333" stroke-width="0.7"/>
<path d="M290.9,72.3H302.9M290.9,71.1V73.5M302.9,71.1V73.5" stroke="#111" stroke-width="0.8" fill="none"/>
<rect x="295.5" y="71.2" width="2.6" height="2.4" fill="#fff" stroke="#333" stroke-width="0.5"/>
<path d="M290.9,88.2H302.9M290.9,87.0V89.4M302.9,87.0V89.4" stroke="#111" stroke-width="0.8" fill="none"/>
<circle cx="297" cy="88.2" r="1.5" fill="#f0e800" stroke="#555" stroke-width="0.4"/>
<text x="305.7" y="53.9" font-size="6.3" text-anchor="start" stroke="#2a2a2a" stroke-width="0.12" fill="#2a2a2a" textLength="30" lengthAdjust="spacingAndGlyphs">EMPA data</text>
<text x="305.7" y="63.6" font-size="6.3" text-anchor="start" stroke="#2a2a2a" stroke-width="0.12" fill="#2a2a2a" textLength="44.5" lengthAdjust="spacingAndGlyphs">LA-ICP-MS data</text>
<text x="305.8" y="74.4" font-size="7.4" text-anchor="start" stroke="#2a2a2a" stroke-width="0.12" fill="#2a2a2a">T</text>
<text x="310.0" y="76.8" font-size="3.4" text-anchor="start" stroke="#2a2a2a" stroke-width="0.12" fill="#2a2a2a" textLength="14.5" lengthAdjust="spacingAndGlyphs">Mg-mag</text>
<text x="324.7" y="74.2" font-size="6.3" text-anchor="start" stroke="#2a2a2a" stroke-width="0.12" fill="#2a2a2a" textLength="56.4" lengthAdjust="spacingAndGlyphs">average for deposit</text>
<text x="305.8" y="88.0" font-size="7.4" text-anchor="start" stroke="#2a2a2a" stroke-width="0.12" fill="#2a2a2a">T</text>
<text x="310.0" y="90.4" font-size="3.4" text-anchor="start" stroke="#2a2a2a" stroke-width="0.12" fill="#2a2a2a" textLength="14.5" lengthAdjust="spacingAndGlyphs">Mg-mag</text>
<text x="326.2" y="87.8" font-size="6.3" text-anchor="start" stroke="#2a2a2a" stroke-width="0.12" fill="#2a2a2a" textLength="32.2" lengthAdjust="spacingAndGlyphs">average for</text>
<text x="307.2" y="95.0" font-size="6.3" text-anchor="start" stroke="#2a2a2a" stroke-width="0.12" fill="#2a2a2a" textLength="43.7" lengthAdjust="spacingAndGlyphs">magnetite type</text>
<text x="294.7" y="108.4" font-size="6.3" text-anchor="start" stroke="#2a2a2a" stroke-width="0.12" fill="#2a2a2a" textLength="57.7" lengthAdjust="spacingAndGlyphs">N = Total number of</text>
<text x="354.4" y="108.6" font-size="7.4" text-anchor="start" stroke="#2a2a2a" stroke-width="0.12" fill="#2a2a2a">T</text>
<text x="358.8" y="111.0" font-size="3.4" text-anchor="start" stroke="#2a2a2a" stroke-width="0.12" fill="#2a2a2a" textLength="14.5" lengthAdjust="spacingAndGlyphs">Mg-mag</text>
<text x="307.2" y="114.2" font-size="6.3" text-anchor="start" stroke="#2a2a2a" stroke-width="0.12" fill="#2a2a2a" textLength="32" lengthAdjust="spacingAndGlyphs">data points</text>
<rect x="24.4" y="43.9" width="360.40000000000003" height="337.3" fill="none" stroke="#222" stroke-width="1.5"/>
<path d="M404.0,75.9H516.9" stroke="#2a2a2a" stroke-width="1.3"/>
<path d="M404.0,104.9H516.9" stroke="#2a2a2a" stroke-width="1.3"/>
<path d="M404.0,152.4H516.9" stroke="#2a2a2a" stroke-width="1.3"/>
<path d="M404.0,209.2H516.9" stroke="#2a2a2a" stroke-width="1.3"/>
<path d="M404.0,292.3H516.9" stroke="#2a2a2a" stroke-width="1.3"/>
<path d="M448.5,250.3H516.9" stroke="#9a9a9a" stroke-width="0.8" stroke-dasharray="2.2,2.0"/>
<path d="M448.5,328.5H516.9" stroke="#9a9a9a" stroke-width="0.8" stroke-dasharray="2.2,2.0"/>
<path d="M521.8,75.9H591.1" stroke="#2a2a2a" stroke-width="1.3"/>
<path d="M521.8,104.9H591.1" stroke="#2a2a2a" stroke-width="1.3"/>
<path d="M521.8,152.4H591.1" stroke="#2a2a2a" stroke-width="1.3"/>
<path d="M521.8,209.2H591.1" stroke="#2a2a2a" stroke-width="1.3"/>
<path d="M521.8,292.3H591.1" stroke="#2a2a2a" stroke-width="1.3"/>
<path d="M522.8,250.3H591.1" stroke="#9a9a9a" stroke-width="0.8" stroke-dasharray="2.2,2.0"/>
<path d="M522.8,328.5H591.1" stroke="#9a9a9a" stroke-width="0.8" stroke-dasharray="2.2,2.0"/>
<path d="M596.4,75.9H665.4" stroke="#2a2a2a" stroke-width="1.3"/>
<path d="M596.4,104.9H665.4" stroke="#2a2a2a" stroke-width="1.3"/>
<path d="M596.4,152.4H665.4" stroke="#2a2a2a" stroke-width="1.3"/>
<path d="M596.4,209.2H665.4" stroke="#2a2a2a" stroke-width="1.3"/>
<path d="M596.4,292.3H665.4" stroke="#2a2a2a" stroke-width="1.3"/>
<path d="M597.4,250.3H665.4" stroke="#9a9a9a" stroke-width="0.8" stroke-dasharray="2.2,2.0"/>
<path d="M597.4,328.5H665.4" stroke="#9a9a9a" stroke-width="0.8" stroke-dasharray="2.2,2.0"/>
<path d="M423.1,43.9V381.2" stroke="#777" stroke-width="0.8"/>
<path d="M447.5,43.9V381.2" stroke="#1a1a1a" stroke-width="1.3"/>
<rect x="448.10" y="57.25" width="13.70" height="3.5" fill="#12f0f0" stroke="#2a6a6a" stroke-width="0.5"/>
<rect x="522.40" y="57.25" width="1.60" height="3.5" fill="#12f0f0" stroke="#2a6a6a" stroke-width="0.5"/>
<rect x="597.00" y="57.25" width="20.60" height="3.5" fill="#12f0f0" stroke="#2a6a6a" stroke-width="0.5"/>
<rect x="448.10" y="88.15" width="10.80" height="3.5" fill="#f060c8" stroke="#6a2a5a" stroke-width="0.5"/>
<rect x="522.40" y="88.15" width="10.10" height="3.5" fill="#f060c8" stroke="#6a2a5a" stroke-width="0.5"/>
<rect x="597.00" y="88.15" width="30.40" height="3.5" fill="#f060c8" stroke="#6a2a5a" stroke-width="0.5"/>
<rect x="448.10" y="111.15" width="6.30" height="3.5" fill="#16d060" stroke="#1a5a30" stroke-width="0.5"/>
<rect x="522.40" y="111.15" width="27.10" height="3.5" fill="#16d060" stroke="#1a5a30" stroke-width="0.5"/>
<rect x="597.00" y="110.35" width="37.50" height="3.5" fill="#16d060" stroke="#1a5a30" stroke-width="0.5"/>
<rect x="448.10" y="118.05" width="5.80" height="3.5" fill="#16d060" stroke="#1a5a30" stroke-width="0.5"/>
<rect x="522.40" y="118.05" width="33.20" height="3.5" fill="#16d060" stroke="#1a5a30" stroke-width="0.5"/>
<rect x="597.00" y="118.05" width="33.60" height="3.5" fill="#16d060" stroke="#1a5a30" stroke-width="0.5"/>
<rect x="448.10" y="125.65" width="33.80" height="3.5" fill="#16d060" stroke="#1a5a30" stroke-width="0.5"/>
<rect x="522.40" y="125.65" width="65.10" height="3.5" fill="#16d060" stroke="#1a5a30" stroke-width="0.5"/>
<rect x="597.00" y="125.65" width="41.60" height="3.5" fill="#16d060" stroke="#1a5a30" stroke-width="0.5"/>
<rect x="448.10" y="139.35" width="8.10" height="3.5" fill="#16d060" stroke="#1a5a30" stroke-width="0.5"/>
<rect x="522.40" y="139.35" width="38.30" height="3.5" fill="#16d060" stroke="#1a5a30" stroke-width="0.5"/>
<rect x="597.00" y="140.65" width="30.60" height="3.5" fill="#16d060" stroke="#1a5a30" stroke-width="0.5"/>
<rect x="448.10" y="158.85" width="0.50" height="3.5" fill="#f5b800" stroke="#6a5000" stroke-width="0.5"/>
<rect x="522.40" y="158.85" width="2.70" height="3.5" fill="#f5b800" stroke="#6a5000" stroke-width="0.5"/>
<rect x="597.00" y="159.25" width="0.40" height="3.5" fill="#f5b800" stroke="#6a5000" stroke-width="0.5"/>
<rect x="448.10" y="166.95" width="4.00" height="3.5" fill="#f5b800" stroke="#6a5000" stroke-width="0.5"/>
<rect x="522.40" y="166.95" width="4.70" height="3.5" fill="#f5b800" stroke="#6a5000" stroke-width="0.5"/>
<rect x="597.00" y="167.45" width="16.30" height="3.5" fill="#f5b800" stroke="#6a5000" stroke-width="0.5"/>
<rect x="448.10" y="175.15" width="2.30" height="3.5" fill="#f5b800" stroke="#6a5000" stroke-width="0.5"/>
<rect x="522.40" y="175.15" width="6.30" height="3.5" fill="#f5b800" stroke="#6a5000" stroke-width="0.5"/>
<rect x="597.00" y="175.15" width="29.50" height="3.5" fill="#f5b800" stroke="#6a5000" stroke-width="0.5"/>
<rect x="448.10" y="184.25" width="2.70" height="3.5" fill="#f5b800" stroke="#6a5000" stroke-width="0.5"/>
<rect x="522.40" y="184.25" width="6.30" height="3.5" fill="#f5b800" stroke="#6a5000" stroke-width="0.5"/>
<rect x="597.00" y="184.25" width="31.50" height="3.5" fill="#f5b800" stroke="#6a5000" stroke-width="0.5"/>
<rect x="448.10" y="196.15" width="2.50" height="3.5" fill="#f5b800" stroke="#6a5000" stroke-width="0.5"/>
<rect x="522.40" y="196.15" width="2.70" height="3.5" fill="#f5b800" stroke="#6a5000" stroke-width="0.5"/>
<rect x="597.00" y="197.25" width="15.50" height="3.5" fill="#f5b800" stroke="#6a5000" stroke-width="0.5"/>
<rect x="448.10" y="217.05" width="0.90" height="3.5" fill="#d2bdf0" stroke="#5a3d7a" stroke-width="0.5"/>
<rect x="522.40" y="217.05" width="4.40" height="3.5" fill="#d2bdf0" stroke="#5a3d7a" stroke-width="0.5"/>
<rect x="597.00" y="217.05" width="4.90" height="3.5" fill="#d2bdf0" stroke="#5a3d7a" stroke-width="0.5"/>
<rect x="448.10" y="225.85" width="6.20" height="3.5" fill="#d2bdf0" stroke="#5a3d7a" stroke-width="0.5"/>
<rect x="522.40" y="225.85" width="5.10" height="3.5" fill="#d2bdf0" stroke="#5a3d7a" stroke-width="0.5"/>
<rect x="597.00" y="225.05" width="3.80" height="3.5" fill="#d2bdf0" stroke="#5a3d7a" stroke-width="0.5"/>
<rect x="448.10" y="238.45" width="3.60" height="3.5" fill="#d2bdf0" stroke="#5a3d7a" stroke-width="0.5"/>
<rect x="522.40" y="238.45" width="5.10" height="3.5" fill="#d2bdf0" stroke="#5a3d7a" stroke-width="0.5"/>
<rect x="597.00" y="238.65" width="4.40" height="3.5" fill="#d2bdf0" stroke="#5a3d7a" stroke-width="0.5"/>
<rect x="448.10" y="257.25" width="1.40" height="3.5" fill="#9a58d8" stroke="#3a2050" stroke-width="0.5"/>
<rect x="522.40" y="257.25" width="10.90" height="3.5" fill="#9a58d8" stroke="#3a2050" stroke-width="0.5"/>
<rect x="597.00" y="257.55" width="52.70" height="3.5" fill="#9a58d8" stroke="#3a2050" stroke-width="0.5"/>
<rect x="448.10" y="267.15" width="8.30" height="3.5" fill="#9a58d8" stroke="#3a2050" stroke-width="0.5"/>
<rect x="522.40" y="267.15" width="12.40" height="3.5" fill="#9a58d8" stroke="#3a2050" stroke-width="0.5"/>
<rect x="597.00" y="267.75" width="54.80" height="3.5" fill="#9a58d8" stroke="#3a2050" stroke-width="0.5"/>
<rect x="448.10" y="280.05" width="7.90" height="3.5" fill="#9a58d8" stroke="#3a2050" stroke-width="0.5"/>
<rect x="522.40" y="280.05" width="12.40" height="3.5" fill="#9a58d8" stroke="#3a2050" stroke-width="0.5"/>
<rect x="597.00" y="280.95" width="54.80" height="3.5" fill="#9a58d8" stroke="#3a2050" stroke-width="0.5"/>
<rect x="448.10" y="310.05" width="15.70" height="3.5" fill="#f58080" stroke="#6a2a2a" stroke-width="0.5"/>
<rect x="522.40" y="310.05" width="11.20" height="3.5" fill="#f58080" stroke="#6a2a2a" stroke-width="0.5"/>
<rect x="448.10" y="335.65" width="1.10" height="3.5" fill="#ee1111" stroke="#6a1010" stroke-width="0.5"/>
<rect x="522.40" y="335.65" width="9.30" height="3.5" fill="#ee1111" stroke="#6a1010" stroke-width="0.5"/>
<rect x="448.10" y="346.35" width="11.80" height="3.5" fill="#ee1111" stroke="#6a1010" stroke-width="0.5"/>
<rect x="522.40" y="346.35" width="14.70" height="3.5" fill="#ee1111" stroke="#6a1010" stroke-width="0.5"/>
<rect x="448.10" y="355.85" width="56.80" height="3.5" fill="#ee1111" stroke="#6a1010" stroke-width="0.5"/>
<rect x="522.40" y="355.85" width="27.40" height="3.5" fill="#ee1111" stroke="#6a1010" stroke-width="0.5"/>
<rect x="448.10" y="368.95" width="21.50" height="3.5" fill="#ee1111" stroke="#6a1010" stroke-width="0.5"/>
<rect x="522.40" y="368.95" width="12.30" height="3.5" fill="#ee1111" stroke="#6a1010" stroke-width="0.5"/>
<rect x="597.00" y="368.95" width="61.90" height="3.5" fill="#ee1111" stroke="#6a1010" stroke-width="0.5"/>
<text x="660.8" y="374.0" font-size="6.5" text-anchor="start" stroke="#333" stroke-width="0.12" fill="#333">*</text>
<text x="445.0" y="60.9" font-size="7.0" text-anchor="end" stroke="#151515" stroke-width="0.15" font-style="italic" fill="#151515" textLength="19.6" lengthAdjust="spacingAndGlyphs">Deposit</text>
<text x="445.0" y="91.60000000000001" font-size="7.0" text-anchor="end" stroke="#151515" stroke-width="0.15" font-style="italic" fill="#151515" textLength="19.6" lengthAdjust="spacingAndGlyphs">Deposit</text>
<text x="444.2" y="114.80000000000001" font-size="7.0" text-anchor="end" stroke="#151515" stroke-width="0.15" font-style="italic" fill="#151515" textLength="16.2" lengthAdjust="spacingAndGlyphs">Mgt-3</text>
<text x="444.2" y="121.7" font-size="7.0" text-anchor="end" stroke="#151515" stroke-width="0.15" font-style="italic" fill="#151515" textLength="16.2" lengthAdjust="spacingAndGlyphs">Mgt-2</text>
<text x="444.2" y="129.3" font-size="7.0" text-anchor="end" stroke="#151515" stroke-width="0.15" font-style="italic" fill="#151515" textLength="16.2" lengthAdjust="spacingAndGlyphs">Mgt-1</text>
<text x="445.0" y="143.0" font-size="7.0" text-anchor="end" stroke="#151515" stroke-width="0.15" font-style="italic" fill="#151515" textLength="19.6" lengthAdjust="spacingAndGlyphs">Deposit</text>
<text x="444.2" y="162.5" font-size="7.0" text-anchor="end" stroke="#151515" stroke-width="0.15" font-style="italic" fill="#151515" textLength="16.2" lengthAdjust="spacingAndGlyphs">Mgt-4</text>
<text x="444.2" y="170.6" font-size="7.0" text-anchor="end" stroke="#151515" stroke-width="0.15" font-style="italic" fill="#151515" textLength="16.2" lengthAdjust="spacingAndGlyphs">Mgt-3</text>
<text x="444.2" y="178.8" font-size="7.0" text-anchor="end" stroke="#151515" stroke-width="0.15" font-style="italic" fill="#151515" textLength="16.2" lengthAdjust="spacingAndGlyphs">Mgt-2</text>
<text x="444.2" y="187.9" font-size="7.0" text-anchor="end" stroke="#151515" stroke-width="0.15" font-style="italic" fill="#151515" textLength="16.2" lengthAdjust="spacingAndGlyphs">Mgt-1</text>
<text x="445.0" y="199.8" font-size="7.0" text-anchor="end" stroke="#151515" stroke-width="0.15" font-style="italic" fill="#151515" textLength="19.6" lengthAdjust="spacingAndGlyphs">Deposit</text>
<text x="444.2" y="220.70000000000002" font-size="7.0" text-anchor="end" stroke="#151515" stroke-width="0.15" font-style="italic" fill="#151515" textLength="16.2" lengthAdjust="spacingAndGlyphs">Mgt-2</text>
<text x="444.2" y="229.5" font-size="7.0" text-anchor="end" stroke="#151515" stroke-width="0.15" font-style="italic" fill="#151515" textLength="16.2" lengthAdjust="spacingAndGlyphs">Mgt-1</text>
<text x="445.0" y="242.1" font-size="7.0" text-anchor="end" stroke="#151515" stroke-width="0.15" font-style="italic" fill="#151515" textLength="19.6" lengthAdjust="spacingAndGlyphs">Deposit</text>
<text x="444.2" y="260.9" font-size="7.0" text-anchor="end" stroke="#151515" stroke-width="0.15" font-style="italic" fill="#151515" textLength="16.2" lengthAdjust="spacingAndGlyphs">Mgt-2</text>
<text x="444.2" y="270.79999999999995" font-size="7.0" text-anchor="end" stroke="#151515" stroke-width="0.15" font-style="italic" fill="#151515" textLength="16.2" lengthAdjust="spacingAndGlyphs">Mgt-1</text>
<text x="445.0" y="283.7" font-size="7.0" text-anchor="end" stroke="#151515" stroke-width="0.15" font-style="italic" fill="#151515" textLength="19.6" lengthAdjust="spacingAndGlyphs">Deposit</text>
<text x="444.2" y="313.7" font-size="7.0" text-anchor="end" stroke="#151515" stroke-width="0.15" font-style="italic" fill="#151515" textLength="16.2" lengthAdjust="spacingAndGlyphs">Mgt-4</text>
<text x="444.2" y="339.29999999999995" font-size="7.0" text-anchor="end" stroke="#151515" stroke-width="0.15" font-style="italic" fill="#151515" textLength="16.2" lengthAdjust="spacingAndGlyphs">Mgt-3</text>
<text x="444.2" y="350.0" font-size="7.0" text-anchor="end" stroke="#151515" stroke-width="0.15" font-style="italic" fill="#151515" textLength="16.2" lengthAdjust="spacingAndGlyphs">Mgt-2</text>
<text x="444.2" y="359.5" font-size="7.0" text-anchor="end" stroke="#151515" stroke-width="0.15" font-style="italic" fill="#151515" textLength="16.2" lengthAdjust="spacingAndGlyphs">Mgt-1</text>
<text x="445.0" y="372.59999999999997" font-size="7.0" text-anchor="end" stroke="#151515" stroke-width="0.15" font-style="italic" fill="#151515" textLength="19.6" lengthAdjust="spacingAndGlyphs">Deposit</text>
<text transform="translate(414.8,61.0) rotate(-90)" font-size="7.3" font-style="italic" fill="#1e1e1e" stroke="#1e1e1e" stroke-width="0.2" text-anchor="middle" textLength="18.7" lengthAdjust="spacingAndGlyphs">Fresia</text>
<text transform="translate(415.7,90.5) rotate(-90)" font-size="7.3" font-style="italic" fill="#1e1e1e" stroke="#1e1e1e" stroke-width="0.2" text-anchor="middle" textLength="23.7" lengthAdjust="spacingAndGlyphs">Carmen</text>
<text transform="translate(415.3,128.6) rotate(-90)" font-size="7.3" font-style="italic" fill="#1e1e1e" stroke="#1e1e1e" stroke-width="0.2" text-anchor="middle" textLength="25.8" lengthAdjust="spacingAndGlyphs">Mariela</text>
<text transform="translate(412.6,183.3) rotate(-90)" font-size="7.3" font-style="italic" fill="#1e1e1e" stroke="#1e1e1e" stroke-width="0.2" text-anchor="middle" textLength="43.4" lengthAdjust="spacingAndGlyphs">Cerro Negro</text>
<text transform="translate(420.3,182.6) rotate(-90)" font-size="7.3" font-style="italic" fill="#1e1e1e" stroke="#1e1e1e" stroke-width="0.2" text-anchor="middle" textLength="19.8" lengthAdjust="spacingAndGlyphs">Norte</text>
<text transform="translate(415.5,244.6) rotate(-90)" font-size="7.3" font-style="italic" fill="#1e1e1e" stroke="#1e1e1e" stroke-width="0.2" text-anchor="middle" textLength="35.7" lengthAdjust="spacingAndGlyphs">El Romeral</text>
<text transform="translate(415.7,335.1) rotate(-90)" font-size="7.3" font-style="italic" fill="#1e1e1e" stroke="#1e1e1e" stroke-width="0.2" text-anchor="middle" textLength="45.8" lengthAdjust="spacingAndGlyphs">Los Colorados</text>
<text x="551.2" y="217.3" font-size="6.8" text-anchor="start" stroke="#2a2a2a" stroke-width="0.12" font-style="italic" fill="#2a2a2a" textLength="36.5" lengthAdjust="spacingAndGlyphs">Shallow zone</text>
<text x="561.3" y="224.3" font-size="6.8" text-anchor="start" stroke="#2a2a2a" stroke-width="0.12" font-style="italic" fill="#2a2a2a" textLength="26.4" lengthAdjust="spacingAndGlyphs">(~ 10 m)</text>
<text x="557.0" y="258.6" font-size="6.8" text-anchor="start" stroke="#2a2a2a" stroke-width="0.12" font-style="italic" fill="#2a2a2a" textLength="30.5" lengthAdjust="spacingAndGlyphs">Deep zone</text>
<text x="557.0" y="265.8" font-size="6.8" text-anchor="start" stroke="#2a2a2a" stroke-width="0.12" font-style="italic" fill="#2a2a2a" textLength="30.5" lengthAdjust="spacingAndGlyphs">(~ 350 m)</text>
<text x="558.0" y="301.2" font-size="6.8" text-anchor="start" stroke="#2a2a2a" stroke-width="0.12" font-style="italic" fill="#2a2a2a" textLength="28.5" lengthAdjust="spacingAndGlyphs">Late-stage</text>
<text x="540.5" y="307.2" font-size="6.8" text-anchor="start" stroke="#2a2a2a" stroke-width="0.12" font-style="italic" fill="#2a2a2a" textLength="46" lengthAdjust="spacingAndGlyphs">stockwork event</text>
<text x="540.1" y="337.3" font-size="6.8" text-anchor="start" stroke="#2a2a2a" stroke-width="0.12" font-style="italic" fill="#2a2a2a" textLength="48" lengthAdjust="spacingAndGlyphs">Massive orebody</text>
<text x="606.2" y="315.7" font-size="6.2" text-anchor="start" stroke="#2a2a2a" stroke-width="0.12" font-style="italic" fill="#2a2a2a" textLength="47" lengthAdjust="spacingAndGlyphs">— not analised —</text>
<text x="606.2" y="341.2" font-size="6.2" text-anchor="start" stroke="#2a2a2a" stroke-width="0.12" font-style="italic" fill="#2a2a2a" textLength="47" lengthAdjust="spacingAndGlyphs">— not analised —</text>
<text x="606.2" y="349.8" font-size="6.2" text-anchor="start" stroke="#2a2a2a" stroke-width="0.12" font-style="italic" fill="#2a2a2a" textLength="47" lengthAdjust="spacingAndGlyphs">— not analised —</text>
<text x="606.2" y="358.2" font-size="6.2" text-anchor="start" stroke="#2a2a2a" stroke-width="0.12" font-style="italic" fill="#2a2a2a" textLength="47" lengthAdjust="spacingAndGlyphs">— not analised —</text>
<rect x="404.0" y="43.9" width="112.89999999999998" height="337.3" fill="none" stroke="#3c3c3c" stroke-width="1.5"/>
<rect x="521.8" y="43.9" width="69.30000000000007" height="337.3" fill="none" stroke="#3c3c3c" stroke-width="1.5"/>
<rect x="596.4" y="43.9" width="69.0" height="337.3" fill="none" stroke="#3c3c3c" stroke-width="1.5"/>
<path d="M447.5,43.9V381.2M521.8,43.9V381.2M596.4,43.9V381.2" stroke="#1a1a1a" stroke-width="1.1"/>
<path d="M404.0,381.2H516.9M521.8,381.2H591.1M596.4,381.2H665.4" stroke="#1a1a1a" stroke-width="1.2"/>
<path d="M447.50,381.2V384.0" stroke="#222" stroke-width="0.9"/>
<path d="M482.20,381.2V384.0" stroke="#222" stroke-width="0.9"/>
<path d="M516.90,381.2V384.0" stroke="#222" stroke-width="0.9"/>
<path d="M521.80,381.2V384.0" stroke="#222" stroke-width="0.9"/>
<path d="M556.45,381.2V384.0" stroke="#222" stroke-width="0.9"/>
<path d="M591.10,381.2V384.0" stroke="#222" stroke-width="0.9"/>
<path d="M596.40,381.2V384.0" stroke="#222" stroke-width="0.9"/>
<path d="M630.90,381.2V384.0" stroke="#222" stroke-width="0.9"/>
<path d="M665.40,381.2V384.0" stroke="#222" stroke-width="0.9"/>
<text x="446.8" y="396.0" font-size="8.9" text-anchor="middle" stroke="#222" stroke-width="0.15" fill="#222" textLength="3.8" lengthAdjust="spacingAndGlyphs">0</text>
<text x="484.6" y="396.0" font-size="8.9" text-anchor="middle" stroke="#222" stroke-width="0.15" fill="#222" textLength="15.7" lengthAdjust="spacingAndGlyphs">0.25</text>
<text x="513.0" y="396.0" font-size="8.9" text-anchor="middle" stroke="#222" stroke-width="0.15" fill="#222" textLength="9.8" lengthAdjust="spacingAndGlyphs">0.5</text>
<text x="523.5" y="396.0" font-size="8.9" text-anchor="middle" stroke="#222" stroke-width="0.15" fill="#222" textLength="4.0" lengthAdjust="spacingAndGlyphs">0</text>
<text x="558.1" y="396.0" font-size="8.9" text-anchor="middle" stroke="#222" stroke-width="0.15" fill="#222" textLength="15.7" lengthAdjust="spacingAndGlyphs">0.75</text>
<text x="587.4" y="396.0" font-size="8.9" text-anchor="middle" stroke="#222" stroke-width="0.15" fill="#222" textLength="9.9" lengthAdjust="spacingAndGlyphs">1.5</text>
<text x="600.0" y="396.0" font-size="8.9" text-anchor="middle" stroke="#222" stroke-width="0.15" fill="#222" textLength="8.2" lengthAdjust="spacingAndGlyphs">15</text>
<text x="630.6" y="396.0" font-size="8.9" text-anchor="middle" stroke="#222" stroke-width="0.15" fill="#222" textLength="8.8" lengthAdjust="spacingAndGlyphs">40</text>
<text x="662.7" y="396.0" font-size="8.9" text-anchor="middle" stroke="#222" stroke-width="0.15" fill="#222" textLength="8.8" lengthAdjust="spacingAndGlyphs">65</text>
<text x="465.7" y="411.6" font-size="11.2" text-anchor="start" stroke="#222" stroke-width="0.12" fill="#222" textLength="40.6" lengthAdjust="spacingAndGlyphs">Ti (wt.%)</text>
<text x="539.0" y="411.6" font-size="11.2" text-anchor="start" stroke="#222" stroke-width="0.12" fill="#222" textLength="39.4" lengthAdjust="spacingAndGlyphs">V (wt.%)</text>
<text x="612.4" y="411.6" font-size="11.2" text-anchor="start" stroke="#222" stroke-width="0.12" fill="#222" textLength="44.5" lengthAdjust="spacingAndGlyphs">Ga (ppm)</text>
</svg></body></html>
